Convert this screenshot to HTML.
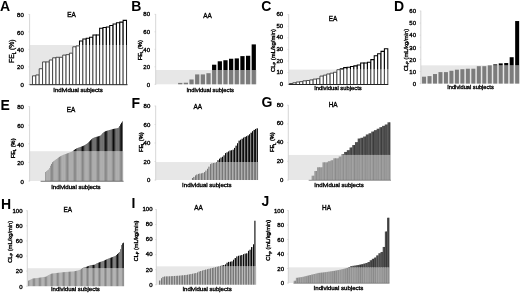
<!DOCTYPE html>
<html><head><meta charset="utf-8"><title>Figure</title>
<style>
html,body{margin:0;padding:0;background:#fff;}
body{width:520px;height:293px;overflow:hidden;font-family:"Liberation Sans",sans-serif;}
svg{display:block;filter:blur(0.32px);}
svg text{font-family:"Liberation Sans",sans-serif;fill:#000;stroke:#000;stroke-width:0.35px;}
svg text.big{stroke:none;}
</style></head><body>
<svg width="520" height="293" viewBox="0 0 520 293">
<rect width="520" height="293" fill="#fff"/>
<rect x="29.6" y="45.03" width="97.90" height="39.38" fill="#e7e7e7"/>
<line x1="29.6" y1="14.10" x2="29.6" y2="84.90" stroke="#cccccc" stroke-width="0.8"/>
<line x1="28.400000000000002" y1="84.40" x2="29.6" y2="84.40" stroke="#cccccc" stroke-width="0.6"/>
<text x="23.8" y="86.7" font-size="6.0" font-weight="normal" text-anchor="end">0</text>
<line x1="28.400000000000002" y1="66.90" x2="29.6" y2="66.90" stroke="#cccccc" stroke-width="0.6"/>
<text x="23.8" y="69.3" font-size="6.0" font-weight="normal" text-anchor="end">20</text>
<line x1="28.400000000000002" y1="49.40" x2="29.6" y2="49.40" stroke="#cccccc" stroke-width="0.6"/>
<text x="23.8" y="51.9" font-size="6.0" font-weight="normal" text-anchor="end">40</text>
<line x1="28.400000000000002" y1="31.90" x2="29.6" y2="31.90" stroke="#cccccc" stroke-width="0.6"/>
<text x="23.8" y="34.5" font-size="6.0" font-weight="normal" text-anchor="end">60</text>
<line x1="28.400000000000002" y1="14.40" x2="29.6" y2="14.40" stroke="#cccccc" stroke-width="0.6"/>
<text x="23.8" y="17.1" font-size="6.0" font-weight="normal" text-anchor="end">80</text>
<rect x="32.50" y="75.83" width="3.36" height="8.58" fill="#fff"/>
<path d="M32.50 84.40V75.83M35.86 84.40V75.83" stroke="#3a3a3a" stroke-width="0.9" fill="none"/>
<path d="M32.50 75.83H35.86" stroke="#3a3a3a" stroke-width="0.9" fill="none"/>
<rect x="35.86" y="74.95" width="3.36" height="9.45" fill="#fff"/>
<path d="M35.86 84.40V74.95M39.21 84.40V74.95" stroke="#3a3a3a" stroke-width="0.9" fill="none"/>
<path d="M35.86 74.95H39.21" stroke="#3a3a3a" stroke-width="0.9" fill="none"/>
<rect x="39.21" y="68.74" width="3.36" height="15.66" fill="#fff"/>
<path d="M39.21 84.40V68.74M42.57 84.40V68.74" stroke="#3a3a3a" stroke-width="0.9" fill="none"/>
<path d="M39.21 68.74H42.57" stroke="#3a3a3a" stroke-width="0.9" fill="none"/>
<rect x="42.57" y="61.91" width="3.36" height="22.49" fill="#fff"/>
<path d="M42.57 84.40V61.91M45.93 84.40V61.91" stroke="#3a3a3a" stroke-width="0.9" fill="none"/>
<path d="M42.57 61.91H45.93" stroke="#3a3a3a" stroke-width="0.9" fill="none"/>
<rect x="45.93" y="61.91" width="3.36" height="22.49" fill="#fff"/>
<path d="M45.93 84.40V61.91M49.29 84.40V61.91" stroke="#3a3a3a" stroke-width="0.9" fill="none"/>
<path d="M45.93 61.91H49.29" stroke="#3a3a3a" stroke-width="0.9" fill="none"/>
<rect x="49.29" y="59.99" width="3.36" height="24.41" fill="#fff"/>
<path d="M49.29 84.40V59.99M52.64 84.40V59.99" stroke="#3a3a3a" stroke-width="0.9" fill="none"/>
<path d="M49.29 59.99H52.64" stroke="#3a3a3a" stroke-width="0.9" fill="none"/>
<rect x="52.64" y="57.80" width="3.36" height="26.60" fill="#fff"/>
<path d="M52.64 84.40V57.80M56.00 84.40V57.80" stroke="#3a3a3a" stroke-width="0.9" fill="none"/>
<path d="M52.64 57.80H56.00" stroke="#3a3a3a" stroke-width="0.9" fill="none"/>
<rect x="56.00" y="57.28" width="3.36" height="27.12" fill="#fff"/>
<path d="M56.00 84.40V57.28M59.36 84.40V57.28" stroke="#3a3a3a" stroke-width="0.9" fill="none"/>
<path d="M56.00 57.28H59.36" stroke="#3a3a3a" stroke-width="0.9" fill="none"/>
<rect x="59.36" y="57.28" width="3.36" height="27.12" fill="#fff"/>
<path d="M59.36 84.40V57.28M62.71 84.40V57.28" stroke="#3a3a3a" stroke-width="0.9" fill="none"/>
<path d="M59.36 57.28H62.71" stroke="#3a3a3a" stroke-width="0.9" fill="none"/>
<rect x="62.71" y="55.09" width="3.36" height="29.31" fill="#fff"/>
<path d="M62.71 84.40V55.09M66.07 84.40V55.09" stroke="#3a3a3a" stroke-width="0.9" fill="none"/>
<path d="M62.71 55.09H66.07" stroke="#3a3a3a" stroke-width="0.9" fill="none"/>
<rect x="66.07" y="54.65" width="3.36" height="29.75" fill="#fff"/>
<path d="M66.07 84.40V54.65M69.43 84.40V54.65" stroke="#3a3a3a" stroke-width="0.9" fill="none"/>
<path d="M66.07 54.65H69.43" stroke="#3a3a3a" stroke-width="0.9" fill="none"/>
<rect x="69.43" y="53.16" width="3.36" height="31.24" fill="#fff"/>
<path d="M69.43 84.40V53.16M72.79 84.40V53.16" stroke="#3a3a3a" stroke-width="0.9" fill="none"/>
<path d="M69.43 53.16H72.79" stroke="#3a3a3a" stroke-width="0.9" fill="none"/>
<rect x="72.79" y="46.78" width="3.36" height="37.62" fill="#fff"/>
<path d="M72.79 84.40V46.78M76.14 84.40V46.78" stroke="#3a3a3a" stroke-width="0.9" fill="none"/>
<path d="M72.79 46.78H76.14" stroke="#3a3a3a" stroke-width="0.9" fill="none"/>
<rect x="76.14" y="45.90" width="3.36" height="38.50" fill="#fff"/>
<path d="M76.14 84.40V45.90M79.50 84.40V45.90" stroke="#3a3a3a" stroke-width="0.9" fill="none"/>
<path d="M76.14 45.90H79.50" stroke="#3a3a3a" stroke-width="0.9" fill="none"/>
<rect x="79.50" y="41.09" width="3.36" height="43.31" fill="#fff"/>
<path d="M79.50 84.40V45.03M82.86 84.40V45.03" stroke="#3a3a3a" stroke-width="0.9" fill="none"/>
<path d="M79.50 45.03V41.09H82.86V45.03" stroke="#000" stroke-width="1.05" fill="none"/>
<rect x="82.86" y="38.90" width="3.36" height="45.50" fill="#fff"/>
<path d="M82.86 84.40V45.03M86.21 84.40V45.03" stroke="#3a3a3a" stroke-width="0.9" fill="none"/>
<path d="M82.86 45.03V38.90H86.21V45.03" stroke="#000" stroke-width="1.05" fill="none"/>
<rect x="86.21" y="38.29" width="3.36" height="46.11" fill="#fff"/>
<path d="M86.21 84.40V45.03M89.57 84.40V45.03" stroke="#3a3a3a" stroke-width="0.9" fill="none"/>
<path d="M86.21 45.03V38.29H89.57V45.03" stroke="#000" stroke-width="1.05" fill="none"/>
<rect x="89.57" y="37.15" width="3.36" height="47.25" fill="#fff"/>
<path d="M89.57 84.40V45.03M92.93 84.40V45.03" stroke="#3a3a3a" stroke-width="0.9" fill="none"/>
<path d="M89.57 45.03V37.15H92.93V45.03" stroke="#000" stroke-width="1.05" fill="none"/>
<rect x="92.93" y="35.05" width="3.36" height="49.35" fill="#fff"/>
<path d="M92.93 84.40V45.03M96.29 84.40V45.03" stroke="#3a3a3a" stroke-width="0.9" fill="none"/>
<path d="M92.93 45.03V35.05H96.29V45.03" stroke="#000" stroke-width="1.05" fill="none"/>
<rect x="96.29" y="35.05" width="3.36" height="49.35" fill="#fff"/>
<path d="M96.29 84.40V45.03M99.64 84.40V45.03" stroke="#3a3a3a" stroke-width="0.9" fill="none"/>
<path d="M96.29 45.03V35.05H99.64V45.03" stroke="#000" stroke-width="1.05" fill="none"/>
<rect x="99.64" y="28.23" width="3.36" height="56.18" fill="#fff"/>
<path d="M99.64 84.40V45.03M103.00 84.40V45.03" stroke="#3a3a3a" stroke-width="0.9" fill="none"/>
<path d="M99.64 45.03V28.23H103.00V45.03" stroke="#000" stroke-width="1.05" fill="none"/>
<rect x="103.00" y="27.53" width="3.36" height="56.88" fill="#fff"/>
<path d="M103.00 84.40V45.03M106.36 84.40V45.03" stroke="#3a3a3a" stroke-width="0.9" fill="none"/>
<path d="M103.00 45.03V27.53H106.36V45.03" stroke="#000" stroke-width="1.05" fill="none"/>
<rect x="106.36" y="27.00" width="3.36" height="57.40" fill="#fff"/>
<path d="M106.36 84.40V45.03M109.71 84.40V45.03" stroke="#3a3a3a" stroke-width="0.9" fill="none"/>
<path d="M106.36 45.03V27.00H109.71V45.03" stroke="#000" stroke-width="1.05" fill="none"/>
<rect x="109.71" y="25.42" width="3.36" height="58.98" fill="#fff"/>
<path d="M109.71 84.40V45.03M113.07 84.40V45.03" stroke="#3a3a3a" stroke-width="0.9" fill="none"/>
<path d="M109.71 45.03V25.42H113.07V45.03" stroke="#000" stroke-width="1.05" fill="none"/>
<rect x="113.07" y="24.03" width="3.36" height="60.38" fill="#fff"/>
<path d="M113.07 84.40V45.03M116.43 84.40V45.03" stroke="#3a3a3a" stroke-width="0.9" fill="none"/>
<path d="M113.07 45.03V24.03H116.43V45.03" stroke="#000" stroke-width="1.05" fill="none"/>
<rect x="116.43" y="22.71" width="3.36" height="61.69" fill="#fff"/>
<path d="M116.43 84.40V45.03M119.79 84.40V45.03" stroke="#3a3a3a" stroke-width="0.9" fill="none"/>
<path d="M116.43 45.03V22.71H119.79V45.03" stroke="#000" stroke-width="1.05" fill="none"/>
<rect x="119.79" y="22.10" width="3.36" height="62.30" fill="#fff"/>
<path d="M119.79 84.40V45.03M123.14 84.40V45.03" stroke="#3a3a3a" stroke-width="0.9" fill="none"/>
<path d="M119.79 45.03V22.10H123.14V45.03" stroke="#000" stroke-width="1.05" fill="none"/>
<rect x="123.14" y="20.35" width="3.36" height="64.05" fill="#fff"/>
<path d="M123.14 84.40V45.03M126.50 84.40V45.03" stroke="#3a3a3a" stroke-width="0.9" fill="none"/>
<path d="M123.14 45.03V20.35H126.50V45.03" stroke="#000" stroke-width="1.05" fill="none"/>
<line x1="29.6" y1="84.70" x2="127.5" y2="84.70" stroke="#222" stroke-width="1.0"/>
<text x="0.1" y="10.8" font-size="14" font-weight="bold" text-anchor="start" class="big">A</text>
<text x="71.5" y="17.2" font-size="6.4" font-weight="normal" text-anchor="middle">EA</text>
<text x="53.3" y="91.5" font-size="6.1" font-weight="normal" text-anchor="start" textLength="49.4" lengthAdjust="spacingAndGlyphs">Individual subjects</text>
<text x="14.4" y="51.2" font-size="6.8" font-weight="normal" text-anchor="middle" transform="rotate(-90 14.4 51.2)">FE<tspan font-size="4.42" dy="1.36">L</tspan><tspan dy="-1.36"> (%)</tspan></text>
<rect x="155.7" y="70.04" width="101.30" height="14.26" fill="#e7e7e7"/>
<line x1="155.7" y1="14.00" x2="155.7" y2="84.80" stroke="#cccccc" stroke-width="0.8"/>
<line x1="154.5" y1="84.30" x2="155.7" y2="84.30" stroke="#cccccc" stroke-width="0.6"/>
<text x="150.0" y="86.7" font-size="6.0" font-weight="normal" text-anchor="end">0</text>
<line x1="154.5" y1="66.80" x2="155.7" y2="66.80" stroke="#cccccc" stroke-width="0.6"/>
<text x="150.0" y="69.1" font-size="6.0" font-weight="normal" text-anchor="end">20</text>
<line x1="154.5" y1="49.30" x2="155.7" y2="49.30" stroke="#cccccc" stroke-width="0.6"/>
<text x="150.0" y="51.5" font-size="6.0" font-weight="normal" text-anchor="end">40</text>
<line x1="154.5" y1="31.80" x2="155.7" y2="31.80" stroke="#cccccc" stroke-width="0.6"/>
<text x="150.0" y="33.9" font-size="6.0" font-weight="normal" text-anchor="end">60</text>
<line x1="154.5" y1="14.30" x2="155.7" y2="14.30" stroke="#cccccc" stroke-width="0.6"/>
<text x="150.0" y="16.3" font-size="6.0" font-weight="normal" text-anchor="end">80</text>
<rect x="178.11" y="82.90" width="4.24" height="1.40" fill="#7c7c7c"/>
<rect x="183.76" y="82.72" width="4.24" height="1.57" fill="#7c7c7c"/>
<rect x="189.42" y="79.49" width="4.24" height="4.81" fill="#7c7c7c"/>
<rect x="195.08" y="74.41" width="4.24" height="9.89" fill="#7c7c7c"/>
<rect x="200.74" y="74.41" width="4.24" height="9.89" fill="#7c7c7c"/>
<rect x="206.39" y="73.19" width="4.24" height="11.11" fill="#7c7c7c"/>
<rect x="212.05" y="70.04" width="4.24" height="14.26" fill="#7c7c7c"/>
<rect x="212.05" y="64.70" width="4.24" height="5.34" fill="#000"/>
<rect x="217.71" y="70.04" width="4.24" height="14.26" fill="#7c7c7c"/>
<rect x="217.71" y="61.29" width="4.24" height="8.75" fill="#000"/>
<rect x="223.36" y="70.04" width="4.24" height="14.26" fill="#7c7c7c"/>
<rect x="223.36" y="60.24" width="4.24" height="9.80" fill="#000"/>
<rect x="229.02" y="70.04" width="4.24" height="14.26" fill="#7c7c7c"/>
<rect x="229.02" y="58.75" width="4.24" height="11.29" fill="#000"/>
<rect x="234.68" y="70.04" width="4.24" height="14.26" fill="#7c7c7c"/>
<rect x="234.68" y="58.40" width="4.24" height="11.64" fill="#000"/>
<rect x="240.34" y="70.04" width="4.24" height="14.26" fill="#7c7c7c"/>
<rect x="240.34" y="56.12" width="4.24" height="13.91" fill="#000"/>
<rect x="245.99" y="70.04" width="4.24" height="14.26" fill="#7c7c7c"/>
<rect x="245.99" y="55.77" width="4.24" height="14.26" fill="#000"/>
<rect x="251.65" y="70.04" width="4.24" height="14.26" fill="#7c7c7c"/>
<rect x="251.65" y="44.40" width="4.24" height="25.64" fill="#000"/>
<text x="131.3" y="10.6" font-size="14" font-weight="bold" text-anchor="start" class="big">B</text>
<text x="207.5" y="17.7" font-size="6.4" font-weight="normal" text-anchor="middle">AA</text>
<text x="186.5" y="91.5" font-size="6.1" font-weight="normal" text-anchor="start" textLength="47.4" lengthAdjust="spacingAndGlyphs">Individual subjects</text>
<text x="142.3" y="50.2" font-size="5.8" font-weight="normal" text-anchor="middle" transform="rotate(-90 142.3 50.2)">FE<tspan font-size="3.77" dy="1.16">L</tspan><tspan dy="-1.16"> (%)</tspan></text>
<rect x="288.7" y="69.58" width="99.60" height="14.62" fill="#e7e7e7"/>
<line x1="288.7" y1="14.30" x2="288.7" y2="84.70" stroke="#cccccc" stroke-width="0.8"/>
<line x1="287.5" y1="84.20" x2="288.7" y2="84.20" stroke="#cccccc" stroke-width="0.6"/>
<text x="283.2" y="86.0" font-size="6.0" font-weight="normal" text-anchor="end">0</text>
<line x1="287.5" y1="72.60" x2="288.7" y2="72.60" stroke="#cccccc" stroke-width="0.6"/>
<text x="283.2" y="74.3" font-size="6.0" font-weight="normal" text-anchor="end">10</text>
<line x1="287.5" y1="61.00" x2="288.7" y2="61.00" stroke="#cccccc" stroke-width="0.6"/>
<text x="283.2" y="62.6" font-size="6.0" font-weight="normal" text-anchor="end">20</text>
<line x1="287.5" y1="49.40" x2="288.7" y2="49.40" stroke="#cccccc" stroke-width="0.6"/>
<text x="283.2" y="50.9" font-size="6.0" font-weight="normal" text-anchor="end">30</text>
<line x1="287.5" y1="37.80" x2="288.7" y2="37.80" stroke="#cccccc" stroke-width="0.6"/>
<text x="283.2" y="39.2" font-size="6.0" font-weight="normal" text-anchor="end">40</text>
<line x1="287.5" y1="26.20" x2="288.7" y2="26.20" stroke="#cccccc" stroke-width="0.6"/>
<text x="283.2" y="27.5" font-size="6.0" font-weight="normal" text-anchor="end">50</text>
<line x1="287.5" y1="14.60" x2="288.7" y2="14.60" stroke="#cccccc" stroke-width="0.6"/>
<text x="283.2" y="15.8" font-size="6.0" font-weight="normal" text-anchor="end">60</text>
<rect x="289.40" y="83.50" width="3.39" height="0.70" fill="#fff"/>
<path d="M289.40 84.20V83.50M292.79 84.20V83.50" stroke="#3a3a3a" stroke-width="0.9" fill="none"/>
<path d="M289.40 83.50H292.79" stroke="#3a3a3a" stroke-width="0.9" fill="none"/>
<rect x="292.79" y="82.81" width="3.39" height="1.39" fill="#fff"/>
<path d="M292.79 84.20V82.81M296.19 84.20V82.81" stroke="#3a3a3a" stroke-width="0.9" fill="none"/>
<path d="M292.79 82.81H296.19" stroke="#3a3a3a" stroke-width="0.9" fill="none"/>
<rect x="296.19" y="82.00" width="3.39" height="2.20" fill="#fff"/>
<path d="M296.19 84.20V82.00M299.58 84.20V82.00" stroke="#3a3a3a" stroke-width="0.9" fill="none"/>
<path d="M296.19 82.00H299.58" stroke="#3a3a3a" stroke-width="0.9" fill="none"/>
<rect x="299.58" y="81.65" width="3.39" height="2.55" fill="#fff"/>
<path d="M299.58 84.20V81.65M302.97 84.20V81.65" stroke="#3a3a3a" stroke-width="0.9" fill="none"/>
<path d="M299.58 81.65H302.97" stroke="#3a3a3a" stroke-width="0.9" fill="none"/>
<rect x="302.97" y="80.84" width="3.39" height="3.36" fill="#fff"/>
<path d="M302.97 84.20V80.84M306.37 84.20V80.84" stroke="#3a3a3a" stroke-width="0.9" fill="none"/>
<path d="M302.97 80.84H306.37" stroke="#3a3a3a" stroke-width="0.9" fill="none"/>
<rect x="306.37" y="80.49" width="3.39" height="3.71" fill="#fff"/>
<path d="M306.37 84.20V80.49M309.76 84.20V80.49" stroke="#3a3a3a" stroke-width="0.9" fill="none"/>
<path d="M306.37 80.49H309.76" stroke="#3a3a3a" stroke-width="0.9" fill="none"/>
<rect x="309.76" y="79.91" width="3.39" height="4.29" fill="#fff"/>
<path d="M309.76 84.20V79.91M313.15 84.20V79.91" stroke="#3a3a3a" stroke-width="0.9" fill="none"/>
<path d="M309.76 79.91H313.15" stroke="#3a3a3a" stroke-width="0.9" fill="none"/>
<rect x="313.15" y="79.10" width="3.39" height="5.10" fill="#fff"/>
<path d="M313.15 84.20V79.10M316.54 84.20V79.10" stroke="#3a3a3a" stroke-width="0.9" fill="none"/>
<path d="M313.15 79.10H316.54" stroke="#3a3a3a" stroke-width="0.9" fill="none"/>
<rect x="316.54" y="78.75" width="3.39" height="5.45" fill="#fff"/>
<path d="M316.54 84.20V78.75M319.94 84.20V78.75" stroke="#3a3a3a" stroke-width="0.9" fill="none"/>
<path d="M316.54 78.75H319.94" stroke="#3a3a3a" stroke-width="0.9" fill="none"/>
<rect x="319.94" y="76.08" width="3.39" height="8.12" fill="#fff"/>
<path d="M319.94 84.20V76.08M323.33 84.20V76.08" stroke="#3a3a3a" stroke-width="0.9" fill="none"/>
<path d="M319.94 76.08H323.33" stroke="#3a3a3a" stroke-width="0.9" fill="none"/>
<rect x="323.33" y="75.15" width="3.39" height="9.05" fill="#fff"/>
<path d="M323.33 84.20V75.15M326.72 84.20V75.15" stroke="#3a3a3a" stroke-width="0.9" fill="none"/>
<path d="M323.33 75.15H326.72" stroke="#3a3a3a" stroke-width="0.9" fill="none"/>
<rect x="326.72" y="73.99" width="3.39" height="10.21" fill="#fff"/>
<path d="M326.72 84.20V73.99M330.12 84.20V73.99" stroke="#3a3a3a" stroke-width="0.9" fill="none"/>
<path d="M326.72 73.99H330.12" stroke="#3a3a3a" stroke-width="0.9" fill="none"/>
<rect x="330.12" y="73.18" width="3.39" height="11.02" fill="#fff"/>
<path d="M330.12 84.20V73.18M333.51 84.20V73.18" stroke="#3a3a3a" stroke-width="0.9" fill="none"/>
<path d="M330.12 73.18H333.51" stroke="#3a3a3a" stroke-width="0.9" fill="none"/>
<rect x="333.51" y="72.25" width="3.39" height="11.95" fill="#fff"/>
<path d="M333.51 84.20V72.25M336.90 84.20V72.25" stroke="#3a3a3a" stroke-width="0.9" fill="none"/>
<path d="M333.51 72.25H336.90" stroke="#3a3a3a" stroke-width="0.9" fill="none"/>
<rect x="336.90" y="69.70" width="3.39" height="14.50" fill="#fff"/>
<path d="M336.90 84.20V69.70M340.30 84.20V69.70" stroke="#3a3a3a" stroke-width="0.9" fill="none"/>
<path d="M336.90 69.70H340.30" stroke="#3a3a3a" stroke-width="0.9" fill="none"/>
<rect x="340.30" y="68.89" width="3.39" height="15.31" fill="#fff"/>
<path d="M340.30 84.20V69.58M343.69 84.20V69.58" stroke="#3a3a3a" stroke-width="0.9" fill="none"/>
<path d="M340.30 69.58V68.89H343.69V69.58" stroke="#000" stroke-width="1.05" fill="none"/>
<rect x="343.69" y="67.61" width="3.39" height="16.59" fill="#fff"/>
<path d="M343.69 84.20V69.58M347.08 84.20V69.58" stroke="#3a3a3a" stroke-width="0.9" fill="none"/>
<path d="M343.69 69.58V67.61H347.08V69.58" stroke="#000" stroke-width="1.05" fill="none"/>
<rect x="347.08" y="67.15" width="3.39" height="17.05" fill="#fff"/>
<path d="M347.08 84.20V69.58M350.48 84.20V69.58" stroke="#3a3a3a" stroke-width="0.9" fill="none"/>
<path d="M347.08 69.58V67.15H350.48V69.58" stroke="#000" stroke-width="1.05" fill="none"/>
<rect x="350.48" y="66.57" width="3.39" height="17.63" fill="#fff"/>
<path d="M350.48 84.20V69.58M353.87 84.20V69.58" stroke="#3a3a3a" stroke-width="0.9" fill="none"/>
<path d="M350.48 69.58V66.57H353.87V69.58" stroke="#000" stroke-width="1.05" fill="none"/>
<rect x="353.87" y="65.87" width="3.39" height="18.33" fill="#fff"/>
<path d="M353.87 84.20V69.58M357.26 84.20V69.58" stroke="#3a3a3a" stroke-width="0.9" fill="none"/>
<path d="M353.87 69.58V65.87H357.26V69.58" stroke="#000" stroke-width="1.05" fill="none"/>
<rect x="357.26" y="64.94" width="3.39" height="19.26" fill="#fff"/>
<path d="M357.26 84.20V69.58M360.66 84.20V69.58" stroke="#3a3a3a" stroke-width="0.9" fill="none"/>
<path d="M357.26 69.58V64.94H360.66V69.58" stroke="#000" stroke-width="1.05" fill="none"/>
<rect x="360.66" y="63.09" width="3.39" height="21.11" fill="#fff"/>
<path d="M360.66 84.20V69.58M364.05 84.20V69.58" stroke="#3a3a3a" stroke-width="0.9" fill="none"/>
<path d="M360.66 69.58V63.09H364.05V69.58" stroke="#000" stroke-width="1.05" fill="none"/>
<rect x="364.05" y="63.09" width="3.39" height="21.11" fill="#fff"/>
<path d="M364.05 84.20V69.58M367.44 84.20V69.58" stroke="#3a3a3a" stroke-width="0.9" fill="none"/>
<path d="M364.05 69.58V63.09H367.44V69.58" stroke="#000" stroke-width="1.05" fill="none"/>
<rect x="367.44" y="62.28" width="3.39" height="21.92" fill="#fff"/>
<path d="M367.44 84.20V69.58M370.83 84.20V69.58" stroke="#3a3a3a" stroke-width="0.9" fill="none"/>
<path d="M367.44 69.58V62.28H370.83V69.58" stroke="#000" stroke-width="1.05" fill="none"/>
<rect x="370.83" y="59.61" width="3.39" height="24.59" fill="#fff"/>
<path d="M370.83 84.20V69.58M374.23 84.20V69.58" stroke="#3a3a3a" stroke-width="0.9" fill="none"/>
<path d="M370.83 69.58V59.61H374.23V69.58" stroke="#000" stroke-width="1.05" fill="none"/>
<rect x="374.23" y="55.66" width="3.39" height="28.54" fill="#fff"/>
<path d="M374.23 84.20V69.58M377.62 84.20V69.58" stroke="#3a3a3a" stroke-width="0.9" fill="none"/>
<path d="M374.23 69.58V55.66H377.62V69.58" stroke="#000" stroke-width="1.05" fill="none"/>
<rect x="377.62" y="53.81" width="3.39" height="30.39" fill="#fff"/>
<path d="M377.62 84.20V69.58M381.01 84.20V69.58" stroke="#3a3a3a" stroke-width="0.9" fill="none"/>
<path d="M377.62 69.58V53.81H381.01V69.58" stroke="#000" stroke-width="1.05" fill="none"/>
<rect x="381.01" y="51.37" width="3.39" height="32.83" fill="#fff"/>
<path d="M381.01 84.20V69.58M384.41 84.20V69.58" stroke="#3a3a3a" stroke-width="0.9" fill="none"/>
<path d="M381.01 69.58V51.37H384.41V69.58" stroke="#000" stroke-width="1.05" fill="none"/>
<rect x="384.41" y="48.70" width="3.39" height="35.50" fill="#fff"/>
<path d="M384.41 84.20V69.58M387.80 84.20V69.58" stroke="#3a3a3a" stroke-width="0.9" fill="none"/>
<path d="M384.41 69.58V48.70H387.80V69.58" stroke="#000" stroke-width="1.05" fill="none"/>
<line x1="288.7" y1="84.50" x2="388.3" y2="84.50" stroke="#222" stroke-width="1.0"/>
<text x="261.3" y="11.2" font-size="14" font-weight="bold" text-anchor="start" class="big">C</text>
<text x="333" y="20.8" font-size="6.4" font-weight="normal" text-anchor="middle">EA</text>
<text x="314.2" y="90.1" font-size="6.1" font-weight="normal" text-anchor="start" textLength="47.5" lengthAdjust="spacingAndGlyphs">Individual subjects</text>
<text x="274.6" y="50.5" font-size="5.95" font-weight="normal" text-anchor="middle" transform="rotate(-90 274.6 50.5)">CL<tspan font-size="3.87" dy="1.19">P</tspan><tspan dy="-1.19"> (mL/kg/min)</tspan></text>
<rect x="420.8" y="65.33" width="99.20" height="18.27" fill="#e7e7e7"/>
<line x1="420.8" y1="10.70" x2="420.8" y2="84.10" stroke="#cccccc" stroke-width="0.8"/>
<line x1="419.6" y1="83.60" x2="420.8" y2="83.60" stroke="#cccccc" stroke-width="0.6"/>
<text x="416.0" y="86.0" font-size="6.0" font-weight="normal" text-anchor="end">0</text>
<line x1="419.6" y1="71.50" x2="420.8" y2="71.50" stroke="#cccccc" stroke-width="0.6"/>
<text x="416.0" y="73.87" font-size="6.0" font-weight="normal" text-anchor="end">10</text>
<line x1="419.6" y1="59.40" x2="420.8" y2="59.40" stroke="#cccccc" stroke-width="0.6"/>
<text x="416.0" y="61.74" font-size="6.0" font-weight="normal" text-anchor="end">20</text>
<line x1="419.6" y1="47.30" x2="420.8" y2="47.30" stroke="#cccccc" stroke-width="0.6"/>
<text x="416.0" y="49.61" font-size="6.0" font-weight="normal" text-anchor="end">30</text>
<line x1="419.6" y1="35.20" x2="420.8" y2="35.20" stroke="#cccccc" stroke-width="0.6"/>
<text x="416.0" y="37.48" font-size="6.0" font-weight="normal" text-anchor="end">40</text>
<line x1="419.6" y1="23.10" x2="420.8" y2="23.10" stroke="#cccccc" stroke-width="0.6"/>
<text x="416.0" y="25.35" font-size="6.0" font-weight="normal" text-anchor="end">50</text>
<line x1="419.6" y1="11.00" x2="420.8" y2="11.00" stroke="#cccccc" stroke-width="0.6"/>
<text x="416.0" y="13.22" font-size="6.0" font-weight="normal" text-anchor="end">60</text>
<rect x="422.04" y="76.70" width="4.00" height="6.90" fill="#7c7c7c"/>
<rect x="427.52" y="76.10" width="4.00" height="7.50" fill="#7c7c7c"/>
<rect x="433.00" y="74.04" width="4.00" height="9.56" fill="#7c7c7c"/>
<rect x="438.47" y="72.10" width="4.00" height="11.49" fill="#7c7c7c"/>
<rect x="443.95" y="72.10" width="4.00" height="11.49" fill="#7c7c7c"/>
<rect x="449.43" y="70.77" width="4.00" height="12.83" fill="#7c7c7c"/>
<rect x="454.91" y="69.69" width="4.00" height="13.91" fill="#7c7c7c"/>
<rect x="460.38" y="69.20" width="4.00" height="14.40" fill="#7c7c7c"/>
<rect x="465.86" y="68.72" width="4.00" height="14.88" fill="#7c7c7c"/>
<rect x="471.34" y="68.72" width="4.00" height="14.88" fill="#7c7c7c"/>
<rect x="476.82" y="66.18" width="4.00" height="17.42" fill="#7c7c7c"/>
<rect x="482.30" y="66.18" width="4.00" height="17.42" fill="#7c7c7c"/>
<rect x="487.77" y="65.33" width="4.00" height="18.27" fill="#7c7c7c"/>
<rect x="493.25" y="65.33" width="4.00" height="18.27" fill="#7c7c7c"/>
<rect x="493.25" y="64.36" width="4.00" height="0.97" fill="#000"/>
<rect x="498.73" y="65.33" width="4.00" height="18.27" fill="#7c7c7c"/>
<rect x="498.73" y="63.39" width="4.00" height="1.94" fill="#000"/>
<rect x="504.21" y="65.33" width="4.00" height="18.27" fill="#7c7c7c"/>
<rect x="504.21" y="63.03" width="4.00" height="2.30" fill="#000"/>
<rect x="509.68" y="65.33" width="4.00" height="18.27" fill="#7c7c7c"/>
<rect x="509.68" y="57.22" width="4.00" height="8.11" fill="#000"/>
<rect x="515.16" y="65.33" width="4.00" height="18.27" fill="#7c7c7c"/>
<rect x="515.16" y="21.04" width="4.00" height="44.29" fill="#000"/>
<text x="394" y="11.2" font-size="14" font-weight="bold" text-anchor="start" class="big">D</text>
<text x="447.2" y="89.4" font-size="6.1" font-weight="normal" text-anchor="start" textLength="46.6" lengthAdjust="spacingAndGlyphs">Individual subjects</text>
<text x="407.8" y="50" font-size="5.8" font-weight="normal" text-anchor="middle" transform="rotate(-90 407.8 50)">CL<tspan font-size="3.77" dy="1.16">P</tspan><tspan dy="-1.16"> (mL/kg/min)</tspan></text>
<rect x="29.6" y="151.24" width="94.00" height="29.76" fill="#e7e7e7"/>
<line x1="29.6" y1="106.30" x2="29.6" y2="181.50" stroke="#cccccc" stroke-width="0.8"/>
<line x1="28.400000000000002" y1="181.00" x2="29.6" y2="181.00" stroke="#cccccc" stroke-width="0.6"/>
<text x="23.900000000000002" y="183.6" font-size="6.0" font-weight="normal" text-anchor="end">0</text>
<line x1="28.400000000000002" y1="162.40" x2="29.6" y2="162.40" stroke="#cccccc" stroke-width="0.6"/>
<text x="23.900000000000002" y="165.05" font-size="6.0" font-weight="normal" text-anchor="end">20</text>
<line x1="28.400000000000002" y1="143.80" x2="29.6" y2="143.80" stroke="#cccccc" stroke-width="0.6"/>
<text x="23.900000000000002" y="146.5" font-size="6.0" font-weight="normal" text-anchor="end">40</text>
<line x1="28.400000000000002" y1="125.20" x2="29.6" y2="125.20" stroke="#cccccc" stroke-width="0.6"/>
<text x="23.900000000000002" y="127.95" font-size="6.0" font-weight="normal" text-anchor="end">60</text>
<line x1="28.400000000000002" y1="106.60" x2="29.6" y2="106.60" stroke="#cccccc" stroke-width="0.6"/>
<text x="23.900000000000002" y="109.4" font-size="6.0" font-weight="normal" text-anchor="end">80</text>
<rect x="44" y="172.20" width="1" height="8.80" fill="#e7e7e7"/>
<rect x="45" y="172.01" width="1" height="8.99" fill="#9d9d9d"/>
<rect x="46" y="171.07" width="1" height="9.93" fill="#adadad"/>
<rect x="47" y="170.25" width="1" height="10.75" fill="#afafaf"/>
<rect x="48" y="169.52" width="1" height="11.48" fill="#adadad"/>
<rect x="49" y="168.01" width="1" height="12.99" fill="#afafaf"/>
<rect x="50" y="165.71" width="1" height="15.29" fill="#9b9b9b"/>
<rect x="51" y="163.88" width="1" height="17.12" fill="#8a8a8a"/>
<rect x="52" y="162.17" width="1" height="18.83" fill="#8e8e8e"/>
<rect x="53" y="161.23" width="1" height="19.77" fill="#a2a2a2"/>
<rect x="54" y="160.51" width="1" height="20.49" fill="#adadad"/>
<rect x="55" y="159.77" width="1" height="21.23" fill="#adadad"/>
<rect x="56" y="159.05" width="1" height="21.95" fill="#adadad"/>
<rect x="57" y="158.33" width="1" height="22.67" fill="#a8a8a8"/>
<rect x="58" y="157.59" width="1" height="23.41" fill="#979797"/>
<rect x="59" y="156.85" width="1" height="24.15" fill="#868686"/>
<rect x="60" y="156.21" width="1" height="24.79" fill="#959595"/>
<rect x="61" y="155.70" width="1" height="25.30" fill="#a7a7a7"/>
<rect x="62" y="155.19" width="1" height="25.81" fill="#afafaf"/>
<rect x="63" y="154.72" width="1" height="26.28" fill="#adadad"/>
<rect x="64" y="154.35" width="1" height="26.65" fill="#afafaf"/>
<rect x="65" y="154.02" width="1" height="26.98" fill="#a3a3a3"/>
<rect x="66" y="153.69" width="1" height="27.31" fill="#929292"/>
<rect x="67" y="153.31" width="1" height="27.69" fill="#888888"/>
<rect x="68" y="152.91" width="1" height="28.09" fill="#9a9a9a"/>
<rect x="69" y="152.53" width="1" height="28.47" fill="#adadad"/>
<rect x="70" y="152.15" width="1" height="28.85" fill="#adadad"/>
<rect x="71" y="151.77" width="1" height="29.23" fill="#adadad"/>
<rect x="72" y="151.24" width="1" height="29.76" fill="#adadad"/>
<rect x="72" y="151.18" width="1" height="0.06" fill="#707070"/>
<rect x="73" y="151.24" width="1" height="29.76" fill="#9f9f9f"/>
<rect x="73" y="150.46" width="1" height="0.78" fill="#4c4c4c"/>
<rect x="74" y="151.24" width="1" height="29.76" fill="#8b8b8b"/>
<rect x="74" y="149.75" width="1" height="1.49" fill="#1c1c1c"/>
<rect x="75" y="151.24" width="1" height="29.76" fill="#8d8d8d"/>
<rect x="75" y="149.03" width="1" height="2.21" fill="#202020"/>
<rect x="76" y="151.24" width="1" height="29.76" fill="#9f9f9f"/>
<rect x="76" y="148.41" width="1" height="2.83" fill="#4c4c4c"/>
<rect x="77" y="151.24" width="1" height="29.76" fill="#afafaf"/>
<rect x="77" y="147.97" width="1" height="3.27" fill="#747474"/>
<rect x="78" y="151.24" width="1" height="29.76" fill="#adadad"/>
<rect x="78" y="147.61" width="1" height="3.63" fill="#707070"/>
<rect x="79" y="151.24" width="1" height="29.76" fill="#afafaf"/>
<rect x="79" y="147.25" width="1" height="3.99" fill="#747474"/>
<rect x="80" y="151.24" width="1" height="29.76" fill="#ababab"/>
<rect x="80" y="146.90" width="1" height="4.34" fill="#6c6c6c"/>
<rect x="81" y="151.24" width="1" height="29.76" fill="#9a9a9a"/>
<rect x="81" y="146.53" width="1" height="4.71" fill="#404040"/>
<rect x="82" y="151.24" width="1" height="29.76" fill="#868686"/>
<rect x="82" y="146.15" width="1" height="5.09" fill="#101010"/>
<rect x="83" y="151.24" width="1" height="29.76" fill="#929292"/>
<rect x="83" y="145.73" width="1" height="5.51" fill="#2c2c2c"/>
<rect x="84" y="151.24" width="1" height="29.76" fill="#a5a5a5"/>
<rect x="84" y="145.19" width="1" height="6.05" fill="#5c5c5c"/>
<rect x="85" y="151.24" width="1" height="29.76" fill="#adadad"/>
<rect x="85" y="144.56" width="1" height="6.68" fill="#707070"/>
<rect x="86" y="151.24" width="1" height="29.76" fill="#afafaf"/>
<rect x="86" y="143.91" width="1" height="7.33" fill="#747474"/>
<rect x="87" y="151.24" width="1" height="29.76" fill="#adadad"/>
<rect x="87" y="143.19" width="1" height="8.05" fill="#707070"/>
<rect x="88" y="151.24" width="1" height="29.76" fill="#a7a7a7"/>
<rect x="88" y="142.30" width="1" height="8.94" fill="#606060"/>
<rect x="89" y="151.24" width="1" height="29.76" fill="#939393"/>
<rect x="89" y="141.33" width="1" height="9.91" fill="#303030"/>
<rect x="90" y="151.24" width="1" height="29.76" fill="#868686"/>
<rect x="90" y="140.27" width="1" height="10.97" fill="#101010"/>
<rect x="91" y="151.24" width="1" height="29.76" fill="#979797"/>
<rect x="91" y="139.20" width="1" height="12.04" fill="#383838"/>
<rect x="92" y="151.24" width="1" height="29.76" fill="#aaaaaa"/>
<rect x="92" y="138.34" width="1" height="12.90" fill="#686868"/>
<rect x="93" y="151.24" width="1" height="29.76" fill="#adadad"/>
<rect x="93" y="137.84" width="1" height="13.40" fill="#707070"/>
<rect x="94" y="151.24" width="1" height="29.76" fill="#adadad"/>
<rect x="94" y="137.38" width="1" height="13.86" fill="#707070"/>
<rect x="95" y="151.24" width="1" height="29.76" fill="#adadad"/>
<rect x="95" y="137.06" width="1" height="14.18" fill="#707070"/>
<rect x="96" y="151.24" width="1" height="29.76" fill="#a0a0a0"/>
<rect x="96" y="136.81" width="1" height="14.43" fill="#505050"/>
<rect x="97" y="151.24" width="1" height="29.76" fill="#8e8e8e"/>
<rect x="97" y="136.55" width="1" height="14.69" fill="#242424"/>
<rect x="98" y="151.24" width="1" height="29.76" fill="#8a8a8a"/>
<rect x="98" y="136.25" width="1" height="14.99" fill="#181818"/>
<rect x="99" y="151.24" width="1" height="29.76" fill="#9d9d9d"/>
<rect x="99" y="135.89" width="1" height="15.35" fill="#484848"/>
<rect x="100" y="151.24" width="1" height="29.76" fill="#adadad"/>
<rect x="100" y="135.41" width="1" height="15.83" fill="#707070"/>
<rect x="101" y="151.24" width="1" height="29.76" fill="#afafaf"/>
<rect x="101" y="134.43" width="1" height="16.81" fill="#747474"/>
<rect x="102" y="151.24" width="1" height="29.76" fill="#adadad"/>
<rect x="102" y="133.25" width="1" height="17.99" fill="#707070"/>
<rect x="103" y="151.24" width="1" height="29.76" fill="#afafaf"/>
<rect x="103" y="132.39" width="1" height="18.85" fill="#747474"/>
<rect x="104" y="151.24" width="1" height="29.76" fill="#9b9b9b"/>
<rect x="104" y="131.78" width="1" height="19.46" fill="#444444"/>
<rect x="105" y="151.24" width="1" height="29.76" fill="#8a8a8a"/>
<rect x="105" y="131.24" width="1" height="20.00" fill="#181818"/>
<rect x="106" y="151.24" width="1" height="29.76" fill="#909090"/>
<rect x="106" y="130.89" width="1" height="20.35" fill="#282828"/>
<rect x="107" y="151.24" width="1" height="29.76" fill="#a2a2a2"/>
<rect x="107" y="130.58" width="1" height="20.66" fill="#545454"/>
<rect x="108" y="151.24" width="1" height="29.76" fill="#afafaf"/>
<rect x="108" y="130.28" width="1" height="20.96" fill="#747474"/>
<rect x="109" y="151.24" width="1" height="29.76" fill="#adadad"/>
<rect x="109" y="129.98" width="1" height="21.26" fill="#707070"/>
<rect x="110" y="151.24" width="1" height="29.76" fill="#adadad"/>
<rect x="110" y="129.71" width="1" height="21.53" fill="#707070"/>
<rect x="111" y="151.24" width="1" height="29.76" fill="#a8a8a8"/>
<rect x="111" y="129.43" width="1" height="21.81" fill="#646464"/>
<rect x="112" y="151.24" width="1" height="29.76" fill="#979797"/>
<rect x="112" y="129.14" width="1" height="22.10" fill="#383838"/>
<rect x="113" y="151.24" width="1" height="29.76" fill="#858585"/>
<rect x="113" y="128.92" width="1" height="22.32" fill="#0c0c0c"/>
<rect x="114" y="151.24" width="1" height="29.76" fill="#959595"/>
<rect x="114" y="128.69" width="1" height="22.55" fill="#343434"/>
<rect x="115" y="151.24" width="1" height="29.76" fill="#a7a7a7"/>
<rect x="115" y="128.48" width="1" height="22.76" fill="#606060"/>
<rect x="116" y="151.24" width="1" height="29.76" fill="#afafaf"/>
<rect x="116" y="128.28" width="1" height="22.96" fill="#747474"/>
<rect x="117" y="151.24" width="1" height="29.76" fill="#adadad"/>
<rect x="117" y="128.09" width="1" height="23.15" fill="#707070"/>
<rect x="118" y="151.24" width="1" height="29.76" fill="#afafaf"/>
<rect x="118" y="127.57" width="1" height="23.67" fill="#747474"/>
<rect x="119" y="151.24" width="1" height="29.76" fill="#a3a3a3"/>
<rect x="119" y="126.10" width="1" height="25.14" fill="#585858"/>
<rect x="120" y="151.24" width="1" height="29.76" fill="#929292"/>
<rect x="120" y="124.35" width="1" height="26.89" fill="#2c2c2c"/>
<rect x="121" y="151.24" width="1" height="29.76" fill="#888888"/>
<rect x="121" y="122.70" width="1" height="28.54" fill="#141414"/>
<rect x="122" y="151.24" width="1" height="29.76" fill="#a9a9a9"/>
<rect x="122" y="121.39" width="1" height="29.85" fill="#676767"/>
<line x1="40.6" y1="181.30" x2="123.6" y2="181.30" stroke="#555" stroke-width="0.8"/>
<text x="0.6" y="109.6" font-size="14" font-weight="bold" text-anchor="start" class="big">E</text>
<text x="71.0" y="112.3" font-size="6.4" font-weight="normal" text-anchor="middle">EA</text>
<text x="51.2" y="188.5" font-size="6.1" font-weight="normal" text-anchor="start" textLength="49.4" lengthAdjust="spacingAndGlyphs">Individual subjects</text>
<text x="14.9" y="148.3" font-size="5.7" font-weight="normal" text-anchor="middle" transform="rotate(-90 14.9 148.3)">FE<tspan font-size="3.71" dy="1.14">L</tspan><tspan dy="-1.14"> (%)</tspan></text>
<rect x="155.7" y="162.06" width="102.80" height="17.95" fill="#e7e7e7"/>
<line x1="155.7" y1="105.70" x2="155.7" y2="180.50" stroke="#cccccc" stroke-width="0.8"/>
<line x1="154.5" y1="180.00" x2="155.7" y2="180.00" stroke="#cccccc" stroke-width="0.6"/>
<text x="150.29999999999998" y="182.2" font-size="6.0" font-weight="normal" text-anchor="end">0</text>
<line x1="154.5" y1="161.50" x2="155.7" y2="161.50" stroke="#cccccc" stroke-width="0.6"/>
<text x="150.29999999999998" y="163.7" font-size="6.0" font-weight="normal" text-anchor="end">20</text>
<line x1="154.5" y1="143.00" x2="155.7" y2="143.00" stroke="#cccccc" stroke-width="0.6"/>
<text x="150.29999999999998" y="145.2" font-size="6.0" font-weight="normal" text-anchor="end">40</text>
<line x1="154.5" y1="124.50" x2="155.7" y2="124.50" stroke="#cccccc" stroke-width="0.6"/>
<text x="150.29999999999998" y="126.7" font-size="6.0" font-weight="normal" text-anchor="end">60</text>
<line x1="154.5" y1="106.00" x2="155.7" y2="106.00" stroke="#cccccc" stroke-width="0.6"/>
<text x="150.29999999999998" y="108.2" font-size="6.0" font-weight="normal" text-anchor="end">80</text>
<rect x="191" y="178.02" width="1" height="1.98" fill="#e2e2e2"/>
<rect x="192" y="178.02" width="1" height="1.98" fill="#787878"/>
<rect x="193" y="176.93" width="1" height="3.07" fill="#8f8f8f"/>
<rect x="194" y="176.93" width="1" height="3.07" fill="#b1b1b1"/>
<rect x="195" y="175.42" width="1" height="4.58" fill="#787878"/>
<rect x="196" y="174.52" width="1" height="5.48" fill="#929292"/>
<rect x="197" y="174.52" width="1" height="5.48" fill="#b0b0b0"/>
<rect x="198" y="173.91" width="1" height="6.09" fill="#787878"/>
<rect x="199" y="173.54" width="1" height="6.46" fill="#959595"/>
<rect x="200" y="173.54" width="1" height="6.46" fill="#b0b0b0"/>
<rect x="201" y="173.34" width="1" height="6.66" fill="#787878"/>
<rect x="202" y="172.88" width="1" height="7.12" fill="#979797"/>
<rect x="203" y="172.88" width="1" height="7.12" fill="#b0b0b0"/>
<rect x="204" y="172.08" width="1" height="7.92" fill="#787878"/>
<rect x="205" y="170.57" width="1" height="9.43" fill="#9b9b9b"/>
<rect x="206" y="170.57" width="1" height="9.43" fill="#aeaeae"/>
<rect x="207" y="168.77" width="1" height="11.23" fill="#787878"/>
<rect x="208" y="166.65" width="1" height="13.35" fill="#9c9c9c"/>
<rect x="209" y="166.65" width="1" height="13.35" fill="#acacac"/>
<rect x="210" y="164.08" width="1" height="15.92" fill="#787878"/>
<rect x="211" y="163.32" width="1" height="16.68" fill="#a0a0a0"/>
<rect x="212" y="163.32" width="1" height="16.68" fill="#a9a9a9"/>
<rect x="213" y="162.98" width="1" height="17.02" fill="#787878"/>
<rect x="214" y="162.78" width="1" height="17.22" fill="#a3a3a3"/>
<rect x="215" y="162.78" width="1" height="17.22" fill="#a5a5a5"/>
<rect x="216" y="162.06" width="1" height="17.95" fill="#787878"/>
<rect x="216" y="162.02" width="1" height="0.03" fill="#0a0a0a"/>
<rect x="217" y="162.06" width="1" height="17.95" fill="#a5a5a5"/>
<rect x="217" y="160.21" width="1" height="1.85" fill="#6e6e6e"/>
<rect x="218" y="162.06" width="1" height="17.95" fill="#a3a3a3"/>
<rect x="218" y="160.21" width="1" height="1.85" fill="#6a6a6a"/>
<rect x="219" y="162.06" width="1" height="17.95" fill="#787878"/>
<rect x="219" y="158.68" width="1" height="3.37" fill="#0a0a0a"/>
<rect x="220" y="162.06" width="1" height="17.95" fill="#a9a9a9"/>
<rect x="220" y="157.55" width="1" height="4.50" fill="#757575"/>
<rect x="221" y="162.06" width="1" height="17.95" fill="#a0a0a0"/>
<rect x="221" y="157.55" width="1" height="4.50" fill="#626262"/>
<rect x="222" y="162.06" width="1" height="17.95" fill="#787878"/>
<rect x="222" y="156.75" width="1" height="5.31" fill="#0a0a0a"/>
<rect x="223" y="162.06" width="1" height="17.95" fill="#acacac"/>
<rect x="223" y="155.31" width="1" height="6.75" fill="#7d7d7d"/>
<rect x="224" y="162.06" width="1" height="17.95" fill="#9c9c9c"/>
<rect x="224" y="155.31" width="1" height="6.75" fill="#5a5a5a"/>
<rect x="225" y="162.06" width="1" height="17.95" fill="#787878"/>
<rect x="225" y="153.10" width="1" height="8.96" fill="#0a0a0a"/>
<rect x="226" y="162.06" width="1" height="17.95" fill="#aeaeae"/>
<rect x="226" y="152.34" width="1" height="9.71" fill="#818181"/>
<rect x="227" y="162.06" width="1" height="17.95" fill="#9b9b9b"/>
<rect x="227" y="152.34" width="1" height="9.71" fill="#575757"/>
<rect x="228" y="162.06" width="1" height="17.95" fill="#787878"/>
<rect x="228" y="151.40" width="1" height="10.66" fill="#0a0a0a"/>
<rect x="229" y="162.06" width="1" height="17.95" fill="#b0b0b0"/>
<rect x="229" y="150.51" width="1" height="11.54" fill="#848484"/>
<rect x="230" y="162.06" width="1" height="17.95" fill="#979797"/>
<rect x="230" y="150.51" width="1" height="11.54" fill="#4f4f4f"/>
<rect x="231" y="162.06" width="1" height="17.95" fill="#787878"/>
<rect x="231" y="150.21" width="1" height="11.84" fill="#0a0a0a"/>
<rect x="232" y="162.06" width="1" height="17.95" fill="#b0b0b0"/>
<rect x="232" y="149.72" width="1" height="12.34" fill="#848484"/>
<rect x="233" y="162.06" width="1" height="17.95" fill="#959595"/>
<rect x="233" y="149.72" width="1" height="12.34" fill="#4b4b4b"/>
<rect x="234" y="162.06" width="1" height="17.95" fill="#787878"/>
<rect x="234" y="147.91" width="1" height="14.15" fill="#0a0a0a"/>
<rect x="235" y="162.06" width="1" height="17.95" fill="#b0b0b0"/>
<rect x="235" y="145.66" width="1" height="16.39" fill="#848484"/>
<rect x="236" y="162.06" width="1" height="17.95" fill="#929292"/>
<rect x="236" y="145.66" width="1" height="16.39" fill="#434343"/>
<rect x="237" y="162.06" width="1" height="17.95" fill="#787878"/>
<rect x="237" y="143.20" width="1" height="18.86" fill="#0a0a0a"/>
<rect x="238" y="162.06" width="1" height="17.95" fill="#b1b1b1"/>
<rect x="238" y="140.63" width="1" height="21.42" fill="#888888"/>
<rect x="239" y="162.06" width="1" height="17.95" fill="#8f8f8f"/>
<rect x="239" y="140.63" width="1" height="21.42" fill="#3c3c3c"/>
<rect x="240" y="162.06" width="1" height="17.95" fill="#787878"/>
<rect x="240" y="139.73" width="1" height="22.32" fill="#0a0a0a"/>
<rect x="241" y="162.06" width="1" height="17.95" fill="#b0b0b0"/>
<rect x="241" y="138.74" width="1" height="23.31" fill="#848484"/>
<rect x="242" y="162.06" width="1" height="17.95" fill="#8d8d8d"/>
<rect x="242" y="138.74" width="1" height="23.31" fill="#383838"/>
<rect x="243" y="162.06" width="1" height="17.95" fill="#787878"/>
<rect x="243" y="137.59" width="1" height="24.46" fill="#0a0a0a"/>
<rect x="244" y="162.06" width="1" height="17.95" fill="#b0b0b0"/>
<rect x="244" y="136.89" width="1" height="25.17" fill="#848484"/>
<rect x="245" y="162.06" width="1" height="17.95" fill="#898989"/>
<rect x="245" y="136.89" width="1" height="25.17" fill="#303030"/>
<rect x="246" y="162.06" width="1" height="17.95" fill="#787878"/>
<rect x="246" y="136.18" width="1" height="25.87" fill="#0a0a0a"/>
<rect x="247" y="162.06" width="1" height="17.95" fill="#b0b0b0"/>
<rect x="247" y="135.43" width="1" height="26.63" fill="#848484"/>
<rect x="248" y="162.06" width="1" height="17.95" fill="#888888"/>
<rect x="248" y="135.43" width="1" height="26.63" fill="#2c2c2c"/>
<rect x="249" y="162.06" width="1" height="17.95" fill="#787878"/>
<rect x="249" y="134.22" width="1" height="27.84" fill="#0a0a0a"/>
<rect x="250" y="162.06" width="1" height="17.95" fill="#b0b0b0"/>
<rect x="250" y="132.71" width="1" height="29.35" fill="#848484"/>
<rect x="251" y="162.06" width="1" height="17.95" fill="#848484"/>
<rect x="251" y="132.71" width="1" height="29.35" fill="#252525"/>
<rect x="252" y="162.06" width="1" height="17.95" fill="#787878"/>
<rect x="252" y="131.20" width="1" height="30.86" fill="#0a0a0a"/>
<rect x="253" y="162.06" width="1" height="17.95" fill="#b1b1b1"/>
<rect x="253" y="129.93" width="1" height="32.12" fill="#888888"/>
<rect x="254" y="162.06" width="1" height="17.95" fill="#818181"/>
<rect x="254" y="129.93" width="1" height="32.12" fill="#1d1d1d"/>
<rect x="255" y="162.06" width="1" height="17.95" fill="#7b7b7b"/>
<rect x="255" y="128.96" width="1" height="33.09" fill="#121212"/>
<rect x="256" y="162.06" width="1" height="17.95" fill="#b0b0b0"/>
<rect x="256" y="128.36" width="1" height="33.69" fill="#848484"/>
<rect x="257" y="162.06" width="1" height="17.95" fill="#7f7f7f"/>
<rect x="257" y="128.36" width="1" height="33.69" fill="#191919"/>
<text x="131.6" y="108.4" font-size="14" font-weight="bold" text-anchor="start" class="big">F</text>
<text x="197.8" y="108.7" font-size="6.4" font-weight="normal" text-anchor="middle">AA</text>
<text x="182.1" y="187.3" font-size="6.1" font-weight="normal" text-anchor="start" textLength="49.4" lengthAdjust="spacingAndGlyphs">Individual subjects</text>
<text x="142.8" y="142.2" font-size="5.7" font-weight="normal" text-anchor="middle" transform="rotate(-90 142.8 142.2)">FE<tspan font-size="3.71" dy="1.14">L</tspan><tspan dy="-1.14"> (%)</tspan></text>
<rect x="288.3" y="154.94" width="102.70" height="25.06" fill="#e7e7e7"/>
<line x1="288.3" y1="104.90" x2="288.3" y2="180.50" stroke="#cccccc" stroke-width="0.8"/>
<line x1="287.1" y1="180.00" x2="288.3" y2="180.00" stroke="#cccccc" stroke-width="0.6"/>
<text x="283.40000000000003" y="181.8" font-size="6.0" font-weight="normal" text-anchor="end">0</text>
<line x1="287.1" y1="161.30" x2="288.3" y2="161.30" stroke="#cccccc" stroke-width="0.6"/>
<text x="283.40000000000003" y="163.0" font-size="6.0" font-weight="normal" text-anchor="end">20</text>
<line x1="287.1" y1="142.60" x2="288.3" y2="142.60" stroke="#cccccc" stroke-width="0.6"/>
<text x="283.40000000000003" y="144.2" font-size="6.0" font-weight="normal" text-anchor="end">40</text>
<line x1="287.1" y1="123.90" x2="288.3" y2="123.90" stroke="#cccccc" stroke-width="0.6"/>
<text x="283.40000000000003" y="125.4" font-size="6.0" font-weight="normal" text-anchor="end">60</text>
<line x1="287.1" y1="105.20" x2="288.3" y2="105.20" stroke="#cccccc" stroke-width="0.6"/>
<text x="283.40000000000003" y="106.6" font-size="6.0" font-weight="normal" text-anchor="end">80</text>
<rect x="311.60" y="175.70" width="2.76" height="4.30" fill="#9b9b9b"/>
<rect x="313.71" y="175.70" width="0.60" height="4.30" fill="#838383"/>
<rect x="314.31" y="171.02" width="2.76" height="8.98" fill="#9b9b9b"/>
<rect x="316.42" y="171.02" width="0.60" height="8.98" fill="#838383"/>
<rect x="317.02" y="167.28" width="2.76" height="12.72" fill="#9b9b9b"/>
<rect x="319.13" y="167.28" width="0.60" height="12.72" fill="#838383"/>
<rect x="319.73" y="167.28" width="2.76" height="12.72" fill="#9b9b9b"/>
<rect x="321.84" y="167.28" width="0.60" height="12.72" fill="#838383"/>
<rect x="322.44" y="162.33" width="2.76" height="17.67" fill="#9b9b9b"/>
<rect x="324.55" y="162.33" width="0.60" height="17.67" fill="#838383"/>
<rect x="325.15" y="162.33" width="2.76" height="17.67" fill="#9b9b9b"/>
<rect x="327.26" y="162.33" width="0.60" height="17.67" fill="#838383"/>
<rect x="327.86" y="161.21" width="2.76" height="18.79" fill="#9b9b9b"/>
<rect x="329.97" y="161.21" width="0.60" height="18.79" fill="#838383"/>
<rect x="330.57" y="160.27" width="2.76" height="19.73" fill="#9b9b9b"/>
<rect x="332.68" y="160.27" width="0.60" height="19.73" fill="#838383"/>
<rect x="333.28" y="158.31" width="2.76" height="21.69" fill="#9b9b9b"/>
<rect x="335.39" y="158.31" width="0.60" height="21.69" fill="#838383"/>
<rect x="335.99" y="158.31" width="2.76" height="21.69" fill="#9b9b9b"/>
<rect x="338.10" y="158.31" width="0.60" height="21.69" fill="#838383"/>
<rect x="338.70" y="156.53" width="2.76" height="23.47" fill="#9b9b9b"/>
<rect x="340.81" y="156.53" width="0.60" height="23.47" fill="#838383"/>
<rect x="341.41" y="154.94" width="2.76" height="25.06" fill="#9b9b9b"/>
<rect x="343.52" y="154.94" width="0.60" height="25.06" fill="#838383"/>
<rect x="341.41" y="154.29" width="2.76" height="0.65" fill="#4f4f4f"/>
<rect x="343.52" y="154.29" width="0.60" height="0.65" fill="#2e2e2e"/>
<rect x="344.12" y="154.94" width="2.76" height="25.06" fill="#9b9b9b"/>
<rect x="346.23" y="154.94" width="0.60" height="25.06" fill="#838383"/>
<rect x="344.12" y="151.95" width="2.76" height="2.99" fill="#4f4f4f"/>
<rect x="346.23" y="151.95" width="0.60" height="2.99" fill="#2e2e2e"/>
<rect x="346.83" y="154.94" width="2.76" height="25.06" fill="#9b9b9b"/>
<rect x="348.94" y="154.94" width="0.60" height="25.06" fill="#838383"/>
<rect x="346.83" y="150.17" width="2.76" height="4.77" fill="#4f4f4f"/>
<rect x="348.94" y="150.17" width="0.60" height="4.77" fill="#2e2e2e"/>
<rect x="349.54" y="154.94" width="2.76" height="25.06" fill="#9b9b9b"/>
<rect x="351.66" y="154.94" width="0.60" height="25.06" fill="#838383"/>
<rect x="349.54" y="147.49" width="2.76" height="7.45" fill="#4f4f4f"/>
<rect x="351.66" y="147.49" width="0.60" height="7.45" fill="#2e2e2e"/>
<rect x="352.26" y="154.94" width="2.76" height="25.06" fill="#9b9b9b"/>
<rect x="354.37" y="154.94" width="0.60" height="25.06" fill="#838383"/>
<rect x="352.26" y="145.05" width="2.76" height="9.89" fill="#4f4f4f"/>
<rect x="354.37" y="145.05" width="0.60" height="9.89" fill="#2e2e2e"/>
<rect x="354.97" y="154.94" width="2.76" height="25.06" fill="#9b9b9b"/>
<rect x="357.08" y="154.94" width="0.60" height="25.06" fill="#838383"/>
<rect x="354.97" y="142.14" width="2.76" height="12.80" fill="#4f4f4f"/>
<rect x="357.08" y="142.14" width="0.60" height="12.80" fill="#2e2e2e"/>
<rect x="357.68" y="154.94" width="2.76" height="25.06" fill="#9b9b9b"/>
<rect x="359.79" y="154.94" width="0.60" height="25.06" fill="#838383"/>
<rect x="357.68" y="138.53" width="2.76" height="16.41" fill="#4f4f4f"/>
<rect x="359.79" y="138.53" width="0.60" height="16.41" fill="#2e2e2e"/>
<rect x="360.39" y="154.94" width="2.76" height="25.06" fill="#9b9b9b"/>
<rect x="362.50" y="154.94" width="0.60" height="25.06" fill="#838383"/>
<rect x="360.39" y="137.79" width="2.76" height="17.15" fill="#4f4f4f"/>
<rect x="362.50" y="137.79" width="0.60" height="17.15" fill="#2e2e2e"/>
<rect x="363.10" y="154.94" width="2.76" height="25.06" fill="#9b9b9b"/>
<rect x="365.21" y="154.94" width="0.60" height="25.06" fill="#838383"/>
<rect x="363.10" y="136.53" width="2.76" height="18.41" fill="#4f4f4f"/>
<rect x="365.21" y="136.53" width="0.60" height="18.41" fill="#2e2e2e"/>
<rect x="365.81" y="154.94" width="2.76" height="25.06" fill="#9b9b9b"/>
<rect x="367.92" y="154.94" width="0.60" height="25.06" fill="#838383"/>
<rect x="365.81" y="134.47" width="2.76" height="20.47" fill="#4f4f4f"/>
<rect x="367.92" y="134.47" width="0.60" height="20.47" fill="#2e2e2e"/>
<rect x="368.52" y="154.94" width="2.76" height="25.06" fill="#9b9b9b"/>
<rect x="370.63" y="154.94" width="0.60" height="25.06" fill="#838383"/>
<rect x="368.52" y="133.29" width="2.76" height="21.65" fill="#4f4f4f"/>
<rect x="370.63" y="133.29" width="0.60" height="21.65" fill="#2e2e2e"/>
<rect x="371.23" y="154.94" width="2.76" height="25.06" fill="#9b9b9b"/>
<rect x="373.34" y="154.94" width="0.60" height="25.06" fill="#838383"/>
<rect x="371.23" y="131.58" width="2.76" height="23.36" fill="#4f4f4f"/>
<rect x="373.34" y="131.58" width="0.60" height="23.36" fill="#2e2e2e"/>
<rect x="373.94" y="154.94" width="2.76" height="25.06" fill="#9b9b9b"/>
<rect x="376.05" y="154.94" width="0.60" height="25.06" fill="#838383"/>
<rect x="373.94" y="130.14" width="2.76" height="24.80" fill="#4f4f4f"/>
<rect x="376.05" y="130.14" width="0.60" height="24.80" fill="#2e2e2e"/>
<rect x="376.65" y="154.94" width="2.76" height="25.06" fill="#9b9b9b"/>
<rect x="378.76" y="154.94" width="0.60" height="25.06" fill="#838383"/>
<rect x="376.65" y="128.75" width="2.76" height="26.20" fill="#4f4f4f"/>
<rect x="378.76" y="128.75" width="0.60" height="26.20" fill="#2e2e2e"/>
<rect x="379.36" y="154.94" width="2.76" height="25.06" fill="#9b9b9b"/>
<rect x="381.47" y="154.94" width="0.60" height="25.06" fill="#838383"/>
<rect x="379.36" y="127.20" width="2.76" height="27.74" fill="#4f4f4f"/>
<rect x="381.47" y="127.20" width="0.60" height="27.74" fill="#2e2e2e"/>
<rect x="382.07" y="154.94" width="2.76" height="25.06" fill="#9b9b9b"/>
<rect x="384.18" y="154.94" width="0.60" height="25.06" fill="#838383"/>
<rect x="382.07" y="125.85" width="2.76" height="29.09" fill="#4f4f4f"/>
<rect x="384.18" y="125.85" width="0.60" height="29.09" fill="#2e2e2e"/>
<rect x="384.78" y="154.94" width="2.76" height="25.06" fill="#9b9b9b"/>
<rect x="386.89" y="154.94" width="0.60" height="25.06" fill="#838383"/>
<rect x="384.78" y="124.49" width="2.76" height="30.45" fill="#4f4f4f"/>
<rect x="386.89" y="124.49" width="0.60" height="30.45" fill="#2e2e2e"/>
<rect x="387.49" y="154.94" width="2.76" height="25.06" fill="#9b9b9b"/>
<rect x="389.60" y="154.94" width="0.60" height="25.06" fill="#838383"/>
<rect x="387.49" y="122.32" width="2.76" height="32.62" fill="#4f4f4f"/>
<rect x="389.60" y="122.32" width="0.60" height="32.62" fill="#2e2e2e"/>
<line x1="308.7" y1="180.30" x2="391" y2="180.30" stroke="#666" stroke-width="0.7"/>
<text x="261.6" y="106.9" font-size="14" font-weight="bold" text-anchor="start" class="big">G</text>
<text x="333.2" y="106.8" font-size="6.4" font-weight="normal" text-anchor="middle">HA</text>
<text x="314.3" y="187.3" font-size="6.1" font-weight="normal" text-anchor="start" textLength="49.4" lengthAdjust="spacingAndGlyphs">Individual subjects</text>
<text x="274.4" y="142.1" font-size="5.7" font-weight="normal" text-anchor="middle" transform="rotate(-90 274.4 142.1)">FE<tspan font-size="3.71" dy="1.14">L</tspan><tspan dy="-1.14"> (%)</tspan></text>
<rect x="27.3" y="268.23" width="97.20" height="17.97" fill="#e7e7e7"/>
<line x1="27.3" y1="210.40" x2="27.3" y2="286.70" stroke="#cccccc" stroke-width="0.8"/>
<line x1="26.1" y1="286.20" x2="27.3" y2="286.20" stroke="#cccccc" stroke-width="0.6"/>
<text x="22.5" y="288.6" font-size="6.0" font-weight="normal" text-anchor="end">0</text>
<line x1="26.1" y1="271.10" x2="27.3" y2="271.10" stroke="#cccccc" stroke-width="0.6"/>
<text x="22.5" y="273.42" font-size="6.0" font-weight="normal" text-anchor="end">20</text>
<line x1="26.1" y1="256.00" x2="27.3" y2="256.00" stroke="#cccccc" stroke-width="0.6"/>
<text x="22.5" y="258.24" font-size="6.0" font-weight="normal" text-anchor="end">40</text>
<line x1="26.1" y1="240.90" x2="27.3" y2="240.90" stroke="#cccccc" stroke-width="0.6"/>
<text x="22.5" y="243.06" font-size="6.0" font-weight="normal" text-anchor="end">60</text>
<line x1="26.1" y1="225.80" x2="27.3" y2="225.80" stroke="#cccccc" stroke-width="0.6"/>
<text x="22.5" y="227.88" font-size="6.0" font-weight="normal" text-anchor="end">80</text>
<line x1="26.1" y1="210.70" x2="27.3" y2="210.70" stroke="#cccccc" stroke-width="0.6"/>
<text x="22.5" y="212.7" font-size="6.0" font-weight="normal" text-anchor="end">100</text>
<rect x="28" y="280.60" width="1" height="5.60" fill="#909090"/>
<rect x="29" y="280.11" width="1" height="6.09" fill="#a8a8a8"/>
<rect x="30" y="279.62" width="1" height="6.58" fill="#b2b2b2"/>
<rect x="31" y="279.13" width="1" height="7.07" fill="#b4b4b4"/>
<rect x="32" y="278.64" width="1" height="7.56" fill="#a7a7a7"/>
<rect x="33" y="278.39" width="1" height="7.81" fill="#8e8e8e"/>
<rect x="34" y="278.27" width="1" height="7.93" fill="#909090"/>
<rect x="35" y="278.17" width="1" height="8.03" fill="#aaaaaa"/>
<rect x="36" y="278.08" width="1" height="8.12" fill="#b2b2b2"/>
<rect x="37" y="277.96" width="1" height="8.24" fill="#b2b2b2"/>
<rect x="38" y="277.82" width="1" height="8.38" fill="#a7a7a7"/>
<rect x="39" y="277.67" width="1" height="8.53" fill="#8d8d8d"/>
<rect x="40" y="277.51" width="1" height="8.69" fill="#929292"/>
<rect x="41" y="277.36" width="1" height="8.84" fill="#aaaaaa"/>
<rect x="42" y="277.22" width="1" height="8.98" fill="#b4b4b4"/>
<rect x="43" y="277.07" width="1" height="9.13" fill="#b2b2b2"/>
<rect x="44" y="276.92" width="1" height="9.28" fill="#a5a5a5"/>
<rect x="45" y="276.77" width="1" height="9.43" fill="#8d8d8d"/>
<rect x="46" y="276.41" width="1" height="9.79" fill="#939393"/>
<rect x="47" y="275.71" width="1" height="10.49" fill="#ababab"/>
<rect x="48" y="275.09" width="1" height="11.11" fill="#b2b2b2"/>
<rect x="49" y="274.60" width="1" height="11.60" fill="#b4b4b4"/>
<rect x="50" y="274.15" width="1" height="12.05" fill="#a3a3a3"/>
<rect x="51" y="273.69" width="1" height="12.51" fill="#8b8b8b"/>
<rect x="52" y="273.46" width="1" height="12.74" fill="#939393"/>
<rect x="53" y="273.34" width="1" height="12.86" fill="#adadad"/>
<rect x="54" y="273.23" width="1" height="12.97" fill="#b2b2b2"/>
<rect x="55" y="273.11" width="1" height="13.09" fill="#b2b2b2"/>
<rect x="56" y="272.99" width="1" height="13.21" fill="#a3a3a3"/>
<rect x="57" y="272.87" width="1" height="13.33" fill="#8a8a8a"/>
<rect x="58" y="272.74" width="1" height="13.46" fill="#959595"/>
<rect x="59" y="272.62" width="1" height="13.58" fill="#adadad"/>
<rect x="60" y="272.51" width="1" height="13.69" fill="#b4b4b4"/>
<rect x="61" y="272.39" width="1" height="13.81" fill="#b2b2b2"/>
<rect x="62" y="272.27" width="1" height="13.93" fill="#a2a2a2"/>
<rect x="63" y="272.18" width="1" height="14.02" fill="#8a8a8a"/>
<rect x="64" y="272.09" width="1" height="14.11" fill="#979797"/>
<rect x="65" y="272.01" width="1" height="14.19" fill="#afafaf"/>
<rect x="66" y="271.93" width="1" height="14.27" fill="#b2b2b2"/>
<rect x="67" y="271.86" width="1" height="14.34" fill="#b4b4b4"/>
<rect x="68" y="271.78" width="1" height="14.42" fill="#a0a0a0"/>
<rect x="69" y="271.70" width="1" height="14.50" fill="#888888"/>
<rect x="70" y="271.61" width="1" height="14.59" fill="#979797"/>
<rect x="71" y="271.53" width="1" height="14.67" fill="#b0b0b0"/>
<rect x="72" y="271.46" width="1" height="14.74" fill="#b2b2b2"/>
<rect x="73" y="271.38" width="1" height="14.82" fill="#b2b2b2"/>
<rect x="74" y="271.23" width="1" height="14.97" fill="#a0a0a0"/>
<rect x="75" y="271.03" width="1" height="15.17" fill="#868686"/>
<rect x="76" y="270.81" width="1" height="15.39" fill="#989898"/>
<rect x="77" y="270.57" width="1" height="15.63" fill="#b0b0b0"/>
<rect x="78" y="270.25" width="1" height="15.95" fill="#b4b4b4"/>
<rect x="79" y="269.92" width="1" height="16.28" fill="#b2b2b2"/>
<rect x="80" y="269.56" width="1" height="16.64" fill="#9f9f9f"/>
<rect x="81" y="268.81" width="1" height="17.39" fill="#868686"/>
<rect x="82" y="268.23" width="1" height="17.97" fill="#9a9a9a"/>
<rect x="82" y="268.02" width="1" height="0.21" fill="#404040"/>
<rect x="83" y="268.23" width="1" height="17.97" fill="#b2b2b2"/>
<rect x="83" y="267.59" width="1" height="0.64" fill="#7c7c7c"/>
<rect x="84" y="268.23" width="1" height="17.97" fill="#b2b2b2"/>
<rect x="84" y="267.33" width="1" height="0.90" fill="#7c7c7c"/>
<rect x="85" y="268.23" width="1" height="17.97" fill="#b4b4b4"/>
<rect x="85" y="267.07" width="1" height="1.16" fill="#808080"/>
<rect x="86" y="268.23" width="1" height="17.97" fill="#9d9d9d"/>
<rect x="86" y="266.75" width="1" height="1.48" fill="#484848"/>
<rect x="87" y="268.23" width="1" height="17.97" fill="#868686"/>
<rect x="87" y="266.34" width="1" height="1.89" fill="#101010"/>
<rect x="88" y="268.23" width="1" height="17.97" fill="#9a9a9a"/>
<rect x="88" y="265.93" width="1" height="2.30" fill="#404040"/>
<rect x="89" y="268.23" width="1" height="17.97" fill="#b4b4b4"/>
<rect x="89" y="265.54" width="1" height="2.69" fill="#808080"/>
<rect x="90" y="268.23" width="1" height="17.97" fill="#b2b2b2"/>
<rect x="90" y="265.20" width="1" height="3.03" fill="#7c7c7c"/>
<rect x="91" y="268.23" width="1" height="17.97" fill="#b2b2b2"/>
<rect x="91" y="265.04" width="1" height="3.19" fill="#7c7c7c"/>
<rect x="92" y="268.23" width="1" height="17.97" fill="#9d9d9d"/>
<rect x="92" y="264.94" width="1" height="3.29" fill="#484848"/>
<rect x="93" y="268.23" width="1" height="17.97" fill="#868686"/>
<rect x="93" y="264.84" width="1" height="3.39" fill="#101010"/>
<rect x="94" y="268.23" width="1" height="17.97" fill="#9b9b9b"/>
<rect x="94" y="264.68" width="1" height="3.55" fill="#444444"/>
<rect x="95" y="268.23" width="1" height="17.97" fill="#b2b2b2"/>
<rect x="95" y="264.13" width="1" height="4.10" fill="#7c7c7c"/>
<rect x="96" y="268.23" width="1" height="17.97" fill="#b4b4b4"/>
<rect x="96" y="263.43" width="1" height="4.80" fill="#808080"/>
<rect x="97" y="268.23" width="1" height="17.97" fill="#b2b2b2"/>
<rect x="97" y="263.04" width="1" height="5.19" fill="#7c7c7c"/>
<rect x="98" y="268.23" width="1" height="17.97" fill="#9b9b9b"/>
<rect x="98" y="262.65" width="1" height="5.58" fill="#444444"/>
<rect x="99" y="268.23" width="1" height="17.97" fill="#868686"/>
<rect x="99" y="262.24" width="1" height="6.00" fill="#101010"/>
<rect x="100" y="268.23" width="1" height="17.97" fill="#9d9d9d"/>
<rect x="100" y="261.85" width="1" height="6.38" fill="#484848"/>
<rect x="101" y="268.23" width="1" height="17.97" fill="#b2b2b2"/>
<rect x="101" y="261.51" width="1" height="6.72" fill="#7c7c7c"/>
<rect x="102" y="268.23" width="1" height="17.97" fill="#b2b2b2"/>
<rect x="102" y="261.17" width="1" height="7.06" fill="#7c7c7c"/>
<rect x="103" y="268.23" width="1" height="17.97" fill="#b4b4b4"/>
<rect x="103" y="260.83" width="1" height="7.40" fill="#808080"/>
<rect x="104" y="268.23" width="1" height="17.97" fill="#9a9a9a"/>
<rect x="104" y="260.40" width="1" height="7.83" fill="#404040"/>
<rect x="105" y="268.23" width="1" height="17.97" fill="#868686"/>
<rect x="105" y="259.89" width="1" height="8.34" fill="#101010"/>
<rect x="106" y="268.23" width="1" height="17.97" fill="#9d9d9d"/>
<rect x="106" y="259.39" width="1" height="8.84" fill="#484848"/>
<rect x="107" y="268.23" width="1" height="17.97" fill="#b4b4b4"/>
<rect x="107" y="258.91" width="1" height="9.32" fill="#808080"/>
<rect x="108" y="268.23" width="1" height="17.97" fill="#b2b2b2"/>
<rect x="108" y="258.50" width="1" height="9.73" fill="#7c7c7c"/>
<rect x="109" y="268.23" width="1" height="17.97" fill="#b2b2b2"/>
<rect x="109" y="258.14" width="1" height="10.09" fill="#7c7c7c"/>
<rect x="110" y="268.23" width="1" height="17.97" fill="#9a9a9a"/>
<rect x="110" y="257.78" width="1" height="10.45" fill="#404040"/>
<rect x="111" y="268.23" width="1" height="17.97" fill="#868686"/>
<rect x="111" y="257.39" width="1" height="10.84" fill="#101010"/>
<rect x="112" y="268.23" width="1" height="17.97" fill="#9f9f9f"/>
<rect x="112" y="256.99" width="1" height="11.24" fill="#4c4c4c"/>
<rect x="113" y="268.23" width="1" height="17.97" fill="#b2b2b2"/>
<rect x="113" y="256.60" width="1" height="11.63" fill="#7c7c7c"/>
<rect x="114" y="268.23" width="1" height="17.97" fill="#b4b4b4"/>
<rect x="114" y="256.22" width="1" height="12.02" fill="#808080"/>
<rect x="115" y="268.23" width="1" height="17.97" fill="#b0b0b0"/>
<rect x="115" y="255.83" width="1" height="12.40" fill="#787878"/>
<rect x="116" y="268.23" width="1" height="17.97" fill="#989898"/>
<rect x="116" y="255.03" width="1" height="13.20" fill="#3c3c3c"/>
<rect x="117" y="268.23" width="1" height="17.97" fill="#868686"/>
<rect x="117" y="253.97" width="1" height="14.26" fill="#101010"/>
<rect x="118" y="268.23" width="1" height="17.97" fill="#a0a0a0"/>
<rect x="118" y="252.94" width="1" height="15.29" fill="#505050"/>
<rect x="119" y="268.23" width="1" height="17.97" fill="#b2b2b2"/>
<rect x="119" y="251.95" width="1" height="16.28" fill="#7c7c7c"/>
<rect x="120" y="268.23" width="1" height="17.97" fill="#b2b2b2"/>
<rect x="120" y="249.14" width="1" height="19.09" fill="#7c7c7c"/>
<rect x="121" y="268.23" width="1" height="17.97" fill="#b0b0b0"/>
<rect x="121" y="245.03" width="1" height="23.20" fill="#787878"/>
<rect x="122" y="268.23" width="1" height="17.97" fill="#979797"/>
<rect x="122" y="243.33" width="1" height="24.90" fill="#383838"/>
<rect x="123" y="268.23" width="1" height="17.97" fill="#919191"/>
<rect x="123" y="242.69" width="1" height="25.54" fill="#2a2a2a"/>
<text x="1.0" y="209.4" font-size="14" font-weight="bold" text-anchor="start" class="big">H</text>
<text x="67.8" y="211.9" font-size="6.4" font-weight="normal" text-anchor="middle">EA</text>
<text x="50.9" y="291.0" font-size="6.1" font-weight="normal" text-anchor="start" textLength="48.9" lengthAdjust="spacingAndGlyphs">Individual subjects</text>
<text x="11.8" y="241.8" font-size="5.8" font-weight="normal" text-anchor="middle" transform="rotate(-90 11.8 241.8)">CL<tspan font-size="3.77" dy="1.16">P</tspan><tspan dy="-1.16"> (mL/kg/min)</tspan></text>
<rect x="156.3" y="266.34" width="100.20" height="18.36" fill="#e7e7e7"/>
<line x1="156.3" y1="209.15" x2="156.3" y2="285.20" stroke="#cccccc" stroke-width="0.8"/>
<line x1="155.10000000000002" y1="284.70" x2="156.3" y2="284.70" stroke="#cccccc" stroke-width="0.6"/>
<text x="152.5" y="286.9" font-size="6.0" font-weight="normal" text-anchor="end">0</text>
<line x1="155.10000000000002" y1="269.65" x2="156.3" y2="269.65" stroke="#cccccc" stroke-width="0.6"/>
<text x="152.5" y="271.68" font-size="6.0" font-weight="normal" text-anchor="end">20</text>
<line x1="155.10000000000002" y1="254.60" x2="156.3" y2="254.60" stroke="#cccccc" stroke-width="0.6"/>
<text x="152.5" y="256.46" font-size="6.0" font-weight="normal" text-anchor="end">40</text>
<line x1="155.10000000000002" y1="239.55" x2="156.3" y2="239.55" stroke="#cccccc" stroke-width="0.6"/>
<text x="152.5" y="241.24" font-size="6.0" font-weight="normal" text-anchor="end">60</text>
<line x1="155.10000000000002" y1="224.50" x2="156.3" y2="224.50" stroke="#cccccc" stroke-width="0.6"/>
<text x="152.5" y="226.02" font-size="6.0" font-weight="normal" text-anchor="end">80</text>
<line x1="155.10000000000002" y1="209.45" x2="156.3" y2="209.45" stroke="#cccccc" stroke-width="0.6"/>
<text x="152.5" y="210.8" font-size="6.0" font-weight="normal" text-anchor="end">100</text>
<rect x="158" y="280.51" width="1" height="4.19" fill="#e7e7e7"/>
<rect x="159" y="280.51" width="1" height="4.19" fill="#787878"/>
<rect x="160" y="280.51" width="1" height="4.19" fill="#bcbcbc"/>
<rect x="161" y="278.20" width="1" height="6.50" fill="#787878"/>
<rect x="162" y="276.90" width="1" height="7.80" fill="#a3a3a3"/>
<rect x="163" y="276.90" width="1" height="7.80" fill="#a2a2a2"/>
<rect x="164" y="276.46" width="1" height="8.24" fill="#787878"/>
<rect x="165" y="276.39" width="1" height="8.31" fill="#bcbcbc"/>
<rect x="166" y="276.39" width="1" height="8.31" fill="#787878"/>
<rect x="167" y="276.33" width="1" height="8.37" fill="#979797"/>
<rect x="168" y="276.33" width="1" height="8.37" fill="#acacac"/>
<rect x="169" y="276.26" width="1" height="8.44" fill="#787878"/>
<rect x="170" y="276.18" width="1" height="8.52" fill="#bcbcbc"/>
<rect x="171" y="276.18" width="1" height="8.52" fill="#828282"/>
<rect x="172" y="276.07" width="1" height="8.63" fill="#8d8d8d"/>
<rect x="173" y="276.07" width="1" height="8.63" fill="#b6b6b6"/>
<rect x="174" y="275.96" width="1" height="8.74" fill="#787878"/>
<rect x="175" y="275.85" width="1" height="8.85" fill="#b8b8b8"/>
<rect x="176" y="275.85" width="1" height="8.85" fill="#8d8d8d"/>
<rect x="177" y="275.74" width="1" height="8.96" fill="#828282"/>
<rect x="178" y="275.74" width="1" height="8.96" fill="#bcbcbc"/>
<rect x="179" y="275.60" width="1" height="9.10" fill="#787878"/>
<rect x="180" y="275.44" width="1" height="9.26" fill="#acacac"/>
<rect x="181" y="275.44" width="1" height="9.26" fill="#979797"/>
<rect x="182" y="275.27" width="1" height="9.43" fill="#787878"/>
<rect x="183" y="275.27" width="1" height="9.43" fill="#bdbdbd"/>
<rect x="184" y="275.11" width="1" height="9.59" fill="#787878"/>
<rect x="185" y="274.94" width="1" height="9.76" fill="#a2a2a2"/>
<rect x="186" y="274.94" width="1" height="9.76" fill="#a2a2a2"/>
<rect x="187" y="274.69" width="1" height="10.01" fill="#787878"/>
<rect x="188" y="274.36" width="1" height="10.34" fill="#bcbcbc"/>
<rect x="189" y="274.36" width="1" height="10.34" fill="#787878"/>
<rect x="190" y="274.04" width="1" height="10.66" fill="#979797"/>
<rect x="191" y="274.04" width="1" height="10.66" fill="#aeaeae"/>
<rect x="192" y="273.71" width="1" height="10.99" fill="#787878"/>
<rect x="193" y="273.38" width="1" height="11.32" fill="#bcbcbc"/>
<rect x="194" y="273.38" width="1" height="11.32" fill="#828282"/>
<rect x="195" y="273.05" width="1" height="11.65" fill="#8d8d8d"/>
<rect x="196" y="273.05" width="1" height="11.65" fill="#b8b8b8"/>
<rect x="197" y="272.38" width="1" height="12.32" fill="#787878"/>
<rect x="198" y="271.57" width="1" height="13.13" fill="#b6b6b6"/>
<rect x="199" y="271.57" width="1" height="13.13" fill="#8d8d8d"/>
<rect x="200" y="271.02" width="1" height="13.68" fill="#818181"/>
<rect x="201" y="271.02" width="1" height="13.68" fill="#bcbcbc"/>
<rect x="202" y="270.47" width="1" height="14.23" fill="#787878"/>
<rect x="203" y="270.00" width="1" height="14.70" fill="#acacac"/>
<rect x="204" y="270.00" width="1" height="14.70" fill="#999999"/>
<rect x="205" y="269.59" width="1" height="15.11" fill="#787878"/>
<rect x="206" y="269.59" width="1" height="15.11" fill="#bcbcbc"/>
<rect x="207" y="269.18" width="1" height="15.52" fill="#787878"/>
<rect x="208" y="268.77" width="1" height="15.93" fill="#a2a2a2"/>
<rect x="209" y="268.77" width="1" height="15.93" fill="#a3a3a3"/>
<rect x="210" y="268.36" width="1" height="16.34" fill="#787878"/>
<rect x="211" y="267.94" width="1" height="16.76" fill="#bcbcbc"/>
<rect x="212" y="267.94" width="1" height="16.76" fill="#7a7a7a"/>
<rect x="213" y="267.53" width="1" height="17.17" fill="#959595"/>
<rect x="214" y="267.53" width="1" height="17.17" fill="#aeaeae"/>
<rect x="215" y="267.12" width="1" height="17.58" fill="#787878"/>
<rect x="216" y="266.71" width="1" height="17.99" fill="#bdbdbd"/>
<rect x="217" y="266.71" width="1" height="17.99" fill="#848484"/>
<rect x="218" y="266.34" width="1" height="18.36" fill="#8b8b8b"/>
<rect x="218" y="266.30" width="1" height="0.04" fill="#343434"/>
<rect x="219" y="266.34" width="1" height="18.36" fill="#b8b8b8"/>
<rect x="219" y="266.30" width="1" height="0.04" fill="#989898"/>
<rect x="220" y="266.34" width="1" height="18.36" fill="#787878"/>
<rect x="220" y="265.89" width="1" height="0.45" fill="#0a0a0a"/>
<rect x="221" y="266.34" width="1" height="18.36" fill="#b5b5b5"/>
<rect x="221" y="265.48" width="1" height="0.86" fill="#909090"/>
<rect x="222" y="266.34" width="1" height="18.36" fill="#8f8f8f"/>
<rect x="222" y="265.48" width="1" height="0.86" fill="#3c3c3c"/>
<rect x="223" y="266.34" width="1" height="18.36" fill="#818181"/>
<rect x="223" y="265.07" width="1" height="1.27" fill="#1d1d1d"/>
<rect x="224" y="266.34" width="1" height="18.36" fill="#bdbdbd"/>
<rect x="224" y="265.07" width="1" height="1.27" fill="#a3a3a3"/>
<rect x="225" y="266.34" width="1" height="18.36" fill="#787878"/>
<rect x="225" y="264.38" width="1" height="1.96" fill="#0a0a0a"/>
<rect x="226" y="266.34" width="1" height="18.36" fill="#aaaaaa"/>
<rect x="226" y="262.73" width="1" height="3.60" fill="#797979"/>
<rect x="227" y="266.34" width="1" height="18.36" fill="#999999"/>
<rect x="227" y="262.73" width="1" height="3.60" fill="#535353"/>
<rect x="228" y="266.34" width="1" height="18.36" fill="#787878"/>
<rect x="228" y="261.90" width="1" height="4.44" fill="#0a0a0a"/>
<rect x="229" y="266.34" width="1" height="18.36" fill="#bdbdbd"/>
<rect x="229" y="261.90" width="1" height="4.44" fill="#a3a3a3"/>
<rect x="230" y="266.34" width="1" height="18.36" fill="#787878"/>
<rect x="230" y="261.68" width="1" height="4.66" fill="#0a0a0a"/>
<rect x="231" y="266.34" width="1" height="18.36" fill="#a0a0a0"/>
<rect x="231" y="261.36" width="1" height="4.98" fill="#626262"/>
<rect x="232" y="266.34" width="1" height="18.36" fill="#a3a3a3"/>
<rect x="232" y="261.36" width="1" height="4.98" fill="#6a6a6a"/>
<rect x="233" y="266.34" width="1" height="18.36" fill="#787878"/>
<rect x="233" y="259.72" width="1" height="6.62" fill="#0a0a0a"/>
<rect x="234" y="266.34" width="1" height="18.36" fill="#bcbcbc"/>
<rect x="234" y="258.07" width="1" height="8.26" fill="#9f9f9f"/>
<rect x="235" y="266.34" width="1" height="18.36" fill="#7a7a7a"/>
<rect x="235" y="258.07" width="1" height="8.26" fill="#0e0e0e"/>
<rect x="236" y="266.34" width="1" height="18.36" fill="#959595"/>
<rect x="236" y="256.43" width="1" height="9.91" fill="#4b4b4b"/>
<rect x="237" y="266.34" width="1" height="18.36" fill="#b0b0b0"/>
<rect x="237" y="256.43" width="1" height="9.91" fill="#848484"/>
<rect x="238" y="266.34" width="1" height="18.36" fill="#787878"/>
<rect x="238" y="255.77" width="1" height="10.57" fill="#0a0a0a"/>
<rect x="239" y="266.34" width="1" height="18.36" fill="#bcbcbc"/>
<rect x="239" y="255.44" width="1" height="10.90" fill="#9f9f9f"/>
<rect x="240" y="266.34" width="1" height="18.36" fill="#848484"/>
<rect x="240" y="255.44" width="1" height="10.90" fill="#252525"/>
<rect x="241" y="266.34" width="1" height="18.36" fill="#8b8b8b"/>
<rect x="241" y="254.99" width="1" height="11.35" fill="#343434"/>
<rect x="242" y="266.34" width="1" height="18.36" fill="#bababa"/>
<rect x="242" y="254.99" width="1" height="11.35" fill="#9b9b9b"/>
<rect x="243" y="266.34" width="1" height="18.36" fill="#787878"/>
<rect x="243" y="254.17" width="1" height="12.17" fill="#0a0a0a"/>
<rect x="244" y="266.34" width="1" height="18.36" fill="#b5b5b5"/>
<rect x="244" y="253.63" width="1" height="12.71" fill="#909090"/>
<rect x="245" y="266.34" width="1" height="18.36" fill="#909090"/>
<rect x="245" y="253.63" width="1" height="12.71" fill="#404040"/>
<rect x="246" y="266.34" width="1" height="18.36" fill="#7f7f7f"/>
<rect x="246" y="253.31" width="1" height="13.03" fill="#191919"/>
<rect x="247" y="266.34" width="1" height="18.36" fill="#bcbcbc"/>
<rect x="247" y="253.31" width="1" height="13.03" fill="#9f9f9f"/>
<rect x="248" y="266.34" width="1" height="18.36" fill="#787878"/>
<rect x="248" y="250.82" width="1" height="15.52" fill="#0a0a0a"/>
<rect x="249" y="266.34" width="1" height="18.36" fill="#aaaaaa"/>
<rect x="249" y="249.71" width="1" height="16.63" fill="#797979"/>
<rect x="250" y="266.34" width="1" height="18.36" fill="#9b9b9b"/>
<rect x="250" y="249.71" width="1" height="16.63" fill="#575757"/>
<rect x="251" y="266.34" width="1" height="18.36" fill="#787878"/>
<rect x="251" y="247.07" width="1" height="19.26" fill="#0a0a0a"/>
<rect x="252" y="266.34" width="1" height="18.36" fill="#bcbcbc"/>
<rect x="252" y="247.07" width="1" height="19.26" fill="#9f9f9f"/>
<rect x="253" y="266.34" width="1" height="18.36" fill="#787878"/>
<rect x="253" y="244.29" width="1" height="22.05" fill="#0a0a0a"/>
<rect x="254" y="266.34" width="1" height="18.36" fill="#9e9e9e"/>
<rect x="254" y="220.74" width="1" height="45.60" fill="#5e5e5e"/>
<rect x="255" y="266.34" width="1" height="18.36" fill="#b2b2b2"/>
<rect x="255" y="220.74" width="1" height="45.60" fill="#8b8b8b"/>
<text x="131.6" y="207.6" font-size="14" font-weight="bold" text-anchor="start" class="big">I</text>
<text x="198.5" y="209.8" font-size="6.4" font-weight="normal" text-anchor="middle">AA</text>
<text x="182.4" y="290.9" font-size="6.1" font-weight="normal" text-anchor="start" textLength="49.3" lengthAdjust="spacingAndGlyphs">Individual subjects</text>
<text x="138" y="240.9" font-size="5.6" font-weight="normal" text-anchor="middle" transform="rotate(-90 138 240.9)">CL<tspan font-size="3.64" dy="1.12">P</tspan><tspan dy="-1.12"> (mL/kg/min)</tspan></text>
<rect x="288.3" y="267.34" width="101.70" height="15.66" fill="#e7e7e7"/>
<line x1="288.3" y1="210.20" x2="288.3" y2="283.50" stroke="#cccccc" stroke-width="0.8"/>
<line x1="287.1" y1="283.00" x2="288.3" y2="283.00" stroke="#cccccc" stroke-width="0.6"/>
<text x="284.0" y="285.2" font-size="6.0" font-weight="normal" text-anchor="end">0</text>
<line x1="287.1" y1="268.50" x2="288.3" y2="268.50" stroke="#cccccc" stroke-width="0.6"/>
<text x="284.0" y="270.66" font-size="6.0" font-weight="normal" text-anchor="end">20</text>
<line x1="287.1" y1="254.00" x2="288.3" y2="254.00" stroke="#cccccc" stroke-width="0.6"/>
<text x="284.0" y="256.12" font-size="6.0" font-weight="normal" text-anchor="end">40</text>
<line x1="287.1" y1="239.50" x2="288.3" y2="239.50" stroke="#cccccc" stroke-width="0.6"/>
<text x="284.0" y="241.58" font-size="6.0" font-weight="normal" text-anchor="end">60</text>
<line x1="287.1" y1="225.00" x2="288.3" y2="225.00" stroke="#cccccc" stroke-width="0.6"/>
<text x="284.0" y="227.04" font-size="6.0" font-weight="normal" text-anchor="end">80</text>
<line x1="287.1" y1="210.50" x2="288.3" y2="210.50" stroke="#cccccc" stroke-width="0.6"/>
<text x="284.0" y="212.5" font-size="6.0" font-weight="normal" text-anchor="end">100</text>
<rect x="293.70" y="280.75" width="2.22" height="2.25" fill="#9d9d9d"/>
<rect x="295.27" y="280.75" width="0.60" height="2.25" fill="#7e7e7e"/>
<rect x="295.87" y="277.80" width="2.22" height="5.20" fill="#9d9d9d"/>
<rect x="297.44" y="277.80" width="0.60" height="5.20" fill="#7e7e7e"/>
<rect x="298.04" y="277.48" width="2.22" height="5.52" fill="#9d9d9d"/>
<rect x="299.61" y="277.48" width="0.60" height="5.52" fill="#7e7e7e"/>
<rect x="300.21" y="277.15" width="2.22" height="5.85" fill="#9d9d9d"/>
<rect x="301.78" y="277.15" width="0.60" height="5.85" fill="#7e7e7e"/>
<rect x="302.38" y="276.72" width="2.22" height="6.28" fill="#9d9d9d"/>
<rect x="303.95" y="276.72" width="0.60" height="6.28" fill="#7e7e7e"/>
<rect x="304.55" y="276.18" width="2.22" height="6.82" fill="#9d9d9d"/>
<rect x="306.12" y="276.18" width="0.60" height="6.82" fill="#7e7e7e"/>
<rect x="306.72" y="275.64" width="2.22" height="7.36" fill="#9d9d9d"/>
<rect x="308.29" y="275.64" width="0.60" height="7.36" fill="#7e7e7e"/>
<rect x="308.89" y="275.09" width="2.22" height="7.91" fill="#9d9d9d"/>
<rect x="310.46" y="275.09" width="0.60" height="7.91" fill="#7e7e7e"/>
<rect x="311.06" y="274.55" width="2.22" height="8.45" fill="#9d9d9d"/>
<rect x="312.63" y="274.55" width="0.60" height="8.45" fill="#7e7e7e"/>
<rect x="313.23" y="274.01" width="2.22" height="8.99" fill="#9d9d9d"/>
<rect x="314.80" y="274.01" width="0.60" height="8.99" fill="#7e7e7e"/>
<rect x="315.40" y="273.46" width="2.22" height="9.54" fill="#9d9d9d"/>
<rect x="316.97" y="273.46" width="0.60" height="9.54" fill="#7e7e7e"/>
<rect x="317.57" y="272.92" width="2.22" height="10.08" fill="#9d9d9d"/>
<rect x="319.15" y="272.92" width="0.60" height="10.08" fill="#7e7e7e"/>
<rect x="319.75" y="272.69" width="2.22" height="10.31" fill="#9d9d9d"/>
<rect x="321.32" y="272.69" width="0.60" height="10.31" fill="#7e7e7e"/>
<rect x="321.92" y="272.47" width="2.22" height="10.53" fill="#9d9d9d"/>
<rect x="323.49" y="272.47" width="0.60" height="10.53" fill="#7e7e7e"/>
<rect x="324.09" y="272.21" width="2.22" height="10.79" fill="#9d9d9d"/>
<rect x="325.66" y="272.21" width="0.60" height="10.79" fill="#7e7e7e"/>
<rect x="326.26" y="271.88" width="2.22" height="11.12" fill="#9d9d9d"/>
<rect x="327.83" y="271.88" width="0.60" height="11.12" fill="#7e7e7e"/>
<rect x="328.43" y="271.56" width="2.22" height="11.44" fill="#9d9d9d"/>
<rect x="330.00" y="271.56" width="0.60" height="11.44" fill="#7e7e7e"/>
<rect x="330.60" y="271.23" width="2.22" height="11.77" fill="#9d9d9d"/>
<rect x="332.17" y="271.23" width="0.60" height="11.77" fill="#7e7e7e"/>
<rect x="332.77" y="270.90" width="2.22" height="12.10" fill="#9d9d9d"/>
<rect x="334.34" y="270.90" width="0.60" height="12.10" fill="#7e7e7e"/>
<rect x="334.94" y="270.54" width="2.22" height="12.46" fill="#9d9d9d"/>
<rect x="336.51" y="270.54" width="0.60" height="12.46" fill="#7e7e7e"/>
<rect x="337.11" y="270.10" width="2.22" height="12.90" fill="#9d9d9d"/>
<rect x="338.68" y="270.10" width="0.60" height="12.90" fill="#7e7e7e"/>
<rect x="339.28" y="269.67" width="2.22" height="13.33" fill="#9d9d9d"/>
<rect x="340.85" y="269.67" width="0.60" height="13.33" fill="#7e7e7e"/>
<rect x="341.45" y="269.14" width="2.22" height="13.86" fill="#9d9d9d"/>
<rect x="343.02" y="269.14" width="0.60" height="13.86" fill="#7e7e7e"/>
<rect x="343.62" y="268.60" width="2.22" height="14.40" fill="#9d9d9d"/>
<rect x="345.19" y="268.60" width="0.60" height="14.40" fill="#7e7e7e"/>
<rect x="345.79" y="267.94" width="2.22" height="15.06" fill="#9d9d9d"/>
<rect x="347.36" y="267.94" width="0.60" height="15.06" fill="#7e7e7e"/>
<rect x="347.96" y="267.34" width="2.22" height="15.66" fill="#9d9d9d"/>
<rect x="349.53" y="267.34" width="0.60" height="15.66" fill="#7e7e7e"/>
<rect x="347.96" y="267.07" width="2.22" height="0.27" fill="#505050"/>
<rect x="349.53" y="267.07" width="0.60" height="0.27" fill="#262626"/>
<rect x="350.13" y="267.34" width="2.22" height="15.66" fill="#9d9d9d"/>
<rect x="351.70" y="267.34" width="0.60" height="15.66" fill="#7e7e7e"/>
<rect x="350.13" y="266.20" width="2.22" height="1.14" fill="#505050"/>
<rect x="351.70" y="266.20" width="0.60" height="1.14" fill="#262626"/>
<rect x="352.30" y="267.34" width="2.22" height="15.66" fill="#9d9d9d"/>
<rect x="353.87" y="267.34" width="0.60" height="15.66" fill="#7e7e7e"/>
<rect x="352.30" y="265.79" width="2.22" height="1.55" fill="#505050"/>
<rect x="353.87" y="265.79" width="0.60" height="1.55" fill="#262626"/>
<rect x="354.47" y="267.34" width="2.22" height="15.66" fill="#9d9d9d"/>
<rect x="356.04" y="267.34" width="0.60" height="15.66" fill="#7e7e7e"/>
<rect x="354.47" y="265.46" width="2.22" height="1.88" fill="#505050"/>
<rect x="356.04" y="265.46" width="0.60" height="1.88" fill="#262626"/>
<rect x="356.64" y="267.34" width="2.22" height="15.66" fill="#9d9d9d"/>
<rect x="358.21" y="267.34" width="0.60" height="15.66" fill="#7e7e7e"/>
<rect x="356.64" y="265.10" width="2.22" height="2.24" fill="#505050"/>
<rect x="358.21" y="265.10" width="0.60" height="2.24" fill="#262626"/>
<rect x="358.81" y="267.34" width="2.22" height="15.66" fill="#9d9d9d"/>
<rect x="360.38" y="267.34" width="0.60" height="15.66" fill="#7e7e7e"/>
<rect x="358.81" y="264.67" width="2.22" height="2.67" fill="#505050"/>
<rect x="360.38" y="264.67" width="0.60" height="2.67" fill="#262626"/>
<rect x="360.98" y="267.34" width="2.22" height="15.66" fill="#9d9d9d"/>
<rect x="362.55" y="267.34" width="0.60" height="15.66" fill="#7e7e7e"/>
<rect x="360.98" y="264.23" width="2.22" height="3.11" fill="#505050"/>
<rect x="362.55" y="264.23" width="0.60" height="3.11" fill="#262626"/>
<rect x="363.15" y="267.34" width="2.22" height="15.66" fill="#9d9d9d"/>
<rect x="364.72" y="267.34" width="0.60" height="15.66" fill="#7e7e7e"/>
<rect x="363.15" y="263.63" width="2.22" height="3.71" fill="#505050"/>
<rect x="364.72" y="263.63" width="0.60" height="3.71" fill="#262626"/>
<rect x="365.32" y="267.34" width="2.22" height="15.66" fill="#9d9d9d"/>
<rect x="366.90" y="267.34" width="0.60" height="15.66" fill="#7e7e7e"/>
<rect x="365.32" y="262.98" width="2.22" height="4.36" fill="#505050"/>
<rect x="366.90" y="262.98" width="0.60" height="4.36" fill="#262626"/>
<rect x="367.50" y="267.34" width="2.22" height="15.66" fill="#9d9d9d"/>
<rect x="369.07" y="267.34" width="0.60" height="15.66" fill="#7e7e7e"/>
<rect x="367.50" y="262.02" width="2.22" height="5.32" fill="#505050"/>
<rect x="369.07" y="262.02" width="0.60" height="5.32" fill="#262626"/>
<rect x="369.67" y="267.34" width="2.22" height="15.66" fill="#9d9d9d"/>
<rect x="371.24" y="267.34" width="0.60" height="15.66" fill="#7e7e7e"/>
<rect x="369.67" y="260.28" width="2.22" height="7.06" fill="#505050"/>
<rect x="371.24" y="260.28" width="0.60" height="7.06" fill="#262626"/>
<rect x="371.84" y="267.34" width="2.22" height="15.66" fill="#9d9d9d"/>
<rect x="373.41" y="267.34" width="0.60" height="15.66" fill="#7e7e7e"/>
<rect x="371.84" y="258.80" width="2.22" height="8.54" fill="#505050"/>
<rect x="373.41" y="258.80" width="0.60" height="8.54" fill="#262626"/>
<rect x="374.01" y="267.34" width="2.22" height="15.66" fill="#9d9d9d"/>
<rect x="375.58" y="267.34" width="0.60" height="15.66" fill="#7e7e7e"/>
<rect x="374.01" y="257.57" width="2.22" height="9.77" fill="#505050"/>
<rect x="375.58" y="257.57" width="0.60" height="9.77" fill="#262626"/>
<rect x="376.18" y="267.34" width="2.22" height="15.66" fill="#9d9d9d"/>
<rect x="377.75" y="267.34" width="0.60" height="15.66" fill="#7e7e7e"/>
<rect x="376.18" y="255.40" width="2.22" height="11.94" fill="#505050"/>
<rect x="377.75" y="255.40" width="0.60" height="11.94" fill="#262626"/>
<rect x="378.35" y="267.34" width="2.22" height="15.66" fill="#9d9d9d"/>
<rect x="379.92" y="267.34" width="0.60" height="15.66" fill="#7e7e7e"/>
<rect x="378.35" y="253.23" width="2.22" height="14.11" fill="#505050"/>
<rect x="379.92" y="253.23" width="0.60" height="14.11" fill="#262626"/>
<rect x="380.52" y="267.34" width="2.22" height="15.66" fill="#9d9d9d"/>
<rect x="382.09" y="267.34" width="0.60" height="15.66" fill="#7e7e7e"/>
<rect x="380.52" y="251.97" width="2.22" height="15.37" fill="#505050"/>
<rect x="382.09" y="251.97" width="0.60" height="15.37" fill="#262626"/>
<rect x="382.69" y="267.34" width="2.22" height="15.66" fill="#9d9d9d"/>
<rect x="384.26" y="267.34" width="0.60" height="15.66" fill="#7e7e7e"/>
<rect x="382.69" y="246.97" width="2.22" height="20.37" fill="#505050"/>
<rect x="384.26" y="246.97" width="0.60" height="20.37" fill="#262626"/>
<rect x="384.86" y="267.34" width="2.22" height="15.66" fill="#9d9d9d"/>
<rect x="386.43" y="267.34" width="0.60" height="15.66" fill="#7e7e7e"/>
<rect x="384.86" y="231.53" width="2.22" height="35.81" fill="#505050"/>
<rect x="386.43" y="231.53" width="0.60" height="35.81" fill="#262626"/>
<rect x="387.03" y="267.34" width="2.22" height="15.66" fill="#9d9d9d"/>
<rect x="388.60" y="267.34" width="0.60" height="15.66" fill="#7e7e7e"/>
<rect x="387.03" y="217.75" width="2.22" height="49.59" fill="#505050"/>
<rect x="388.60" y="217.75" width="0.60" height="49.59" fill="#262626"/>
<line x1="293.5" y1="283.30" x2="389.5" y2="283.30" stroke="#666" stroke-width="0.7"/>
<text x="261.6" y="206.4" font-size="14" font-weight="bold" text-anchor="start" class="big">J</text>
<text x="326.5" y="209.8" font-size="6.4" font-weight="normal" text-anchor="middle">HA</text>
<text x="313.6" y="289.8" font-size="6.1" font-weight="normal" text-anchor="start" textLength="49.7" lengthAdjust="spacingAndGlyphs">Individual subjects</text>
<text x="270.5" y="240.3" font-size="5.6" font-weight="normal" text-anchor="middle" transform="rotate(-90 270.5 240.3)">CL<tspan font-size="3.64" dy="1.12">P</tspan><tspan dy="-1.12"> (mL/kg/min)</tspan></text>
</svg>
</body></html>
